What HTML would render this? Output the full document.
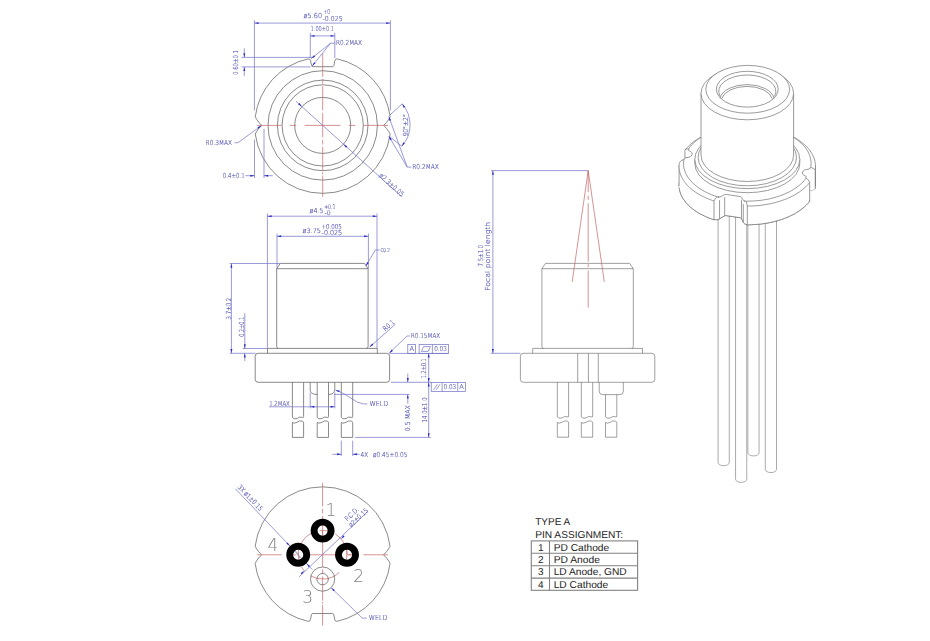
<!DOCTYPE html>
<html><head><meta charset="utf-8"><title>TYPE A package outline</title>
<style>
html,body{margin:0;padding:0;background:#fff;}
body{width:930px;height:641px;overflow:hidden;position:relative;font-family:"Liberation Sans",sans-serif;}
svg{display:block;position:absolute;}
#tbl{left:520px;top:505px;}
#drw{left:0;top:0;will-change:transform;}
text{white-space:pre;}
</style></head><body>
<svg id="tbl" width="130" height="95" viewBox="520 505 130 95">
<text x="535.2" y="524.5" font-size="10" text-anchor="start" fill="#1c1c1c" font-family='"Liberation Sans", sans-serif' textLength="35" lengthAdjust="spacingAndGlyphs" text-rendering="geometricPrecision">TYPE A</text>
<text x="535.2" y="537.6" font-size="10" text-anchor="start" fill="#1c1c1c" font-family='"Liberation Sans", sans-serif' textLength="88" lengthAdjust="spacingAndGlyphs" text-rendering="geometricPrecision">PIN ASSIGNMENT:</text>
<rect x="531.3" y="540.9" width="106.3" height="49.4" fill="none" stroke="#828282" stroke-width="1.1"/>
<line x1="549.5" y1="540.9" x2="549.5" y2="590.3" stroke="#828282" stroke-width="1.1" />
<line x1="531.3" y1="553.2" x2="637.6" y2="553.2" stroke="#828282" stroke-width="1.1" />
<line x1="531.3" y1="565.8" x2="637.6" y2="565.8" stroke="#828282" stroke-width="1.1" />
<line x1="531.3" y1="578.1" x2="637.6" y2="578.1" stroke="#828282" stroke-width="1.1" />
<text x="540.8" y="550.5" font-size="10" text-anchor="middle" fill="#1c1c1c" font-family='"Liberation Sans", sans-serif' text-rendering="geometricPrecision">1</text>
<text x="553.7" y="550.5" font-size="10" text-anchor="start" fill="#1c1c1c" font-family='"Liberation Sans", sans-serif' textLength="55.5" lengthAdjust="spacingAndGlyphs" text-rendering="geometricPrecision">PD Cathode</text>
<text x="540.8" y="562.9" font-size="10" text-anchor="middle" fill="#1c1c1c" font-family='"Liberation Sans", sans-serif' text-rendering="geometricPrecision">2</text>
<text x="553.7" y="562.9" font-size="10" text-anchor="start" fill="#1c1c1c" font-family='"Liberation Sans", sans-serif' textLength="46.3" lengthAdjust="spacingAndGlyphs" text-rendering="geometricPrecision">PD Anode</text>
<text x="540.8" y="575.4" font-size="10" text-anchor="middle" fill="#1c1c1c" font-family='"Liberation Sans", sans-serif' text-rendering="geometricPrecision">3</text>
<text x="553.7" y="575.4" font-size="10" text-anchor="start" fill="#1c1c1c" font-family='"Liberation Sans", sans-serif' textLength="73" lengthAdjust="spacingAndGlyphs" text-rendering="geometricPrecision">LD Anode, GND</text>
<text x="540.8" y="587.7" font-size="10" text-anchor="middle" fill="#1c1c1c" font-family='"Liberation Sans", sans-serif' text-rendering="geometricPrecision">4</text>
<text x="553.7" y="587.7" font-size="10" text-anchor="start" fill="#1c1c1c" font-family='"Liberation Sans", sans-serif' textLength="54.5" lengthAdjust="spacingAndGlyphs" text-rendering="geometricPrecision">LD Cathode</text>
</svg>
<svg id="drw" width="930" height="641" viewBox="0 0 930 641">
<path d="M332.4,66.7 Q333.6,66.7 333.9,65.5 L334.8,60.85 Q335.2,58.45 337.5,58.95 A68,68 0 0 1 390.15,116.8 Q388.95,119.3 386.7,122.2 L383.7,125.4 L386.7,128.6 Q388.95,131.5 390.15,134 A68,68 0 0 1 255.25,134 Q256.45,131.5 258.7,128.6 L261.7,125.4 L258.7,122.2 Q256.45,119.3 255.25,116.8 A68,68 0 0 1 307.9,58.95 Q310.2,58.45 310.6,60.85 L311.5,65.5 Q311.8,66.7 313,66.7 Z" fill="none" stroke="#585858" stroke-width="0.7" />
<circle cx="322.7" cy="125.4" r="54.7" fill="none" stroke="#585858" stroke-width="0.7" />
<circle cx="322.7" cy="125.4" r="45.3" fill="none" stroke="#585858" stroke-width="0.7" />
<circle cx="322.7" cy="125.4" r="40.6" fill="none" stroke="#585858" stroke-width="0.7" />
<circle cx="322.7" cy="125.4" r="28" fill="none" stroke="#585858" stroke-width="0.7" />
<line x1="257.2" y1="125.4" x2="388.2" y2="125.4" stroke="#c46468" stroke-width="0.7" stroke-dasharray="36 8.2 6.5 8.2" stroke-dashoffset="11.6"/>
<line x1="322.7" y1="53.6" x2="322.7" y2="76.7" stroke="#c46468" stroke-width="0.7" />
<line x1="322.7" y1="79" x2="322.7" y2="83.8" stroke="#c46468" stroke-width="0.7" />
<line x1="322.7" y1="86.2" x2="322.7" y2="110.5" stroke="#c46468" stroke-width="0.7" />
<line x1="322.7" y1="112.8" x2="322.7" y2="137.4" stroke="#c46468" stroke-width="0.7" />
<line x1="322.7" y1="139.8" x2="322.7" y2="144.5" stroke="#c46468" stroke-width="0.7" />
<line x1="322.7" y1="146.8" x2="322.7" y2="171" stroke="#c46468" stroke-width="0.7" />
<line x1="322.7" y1="172.2" x2="322.7" y2="174.2" stroke="#c46468" stroke-width="0.7" />
<line x1="322.7" y1="175.5" x2="322.7" y2="196.8" stroke="#c46468" stroke-width="0.7" />
<line x1="254.4" y1="20.3" x2="254.4" y2="110.3" stroke="#7070c6" stroke-width="0.7" />
<line x1="390.4" y1="20.3" x2="390.4" y2="110.5" stroke="#7070c6" stroke-width="0.7" />
<line x1="254.4" y1="23.1" x2="390.4" y2="23.1" stroke="#7070c6" stroke-width="0.7" />
<polygon points="254.4,23.1 258.6,22.15 258.6,24.05" fill="#2a2ac4"/>
<polygon points="390.4,23.1 386.2,24.05 386.2,22.15" fill="#2a2ac4"/>
<text x="303.6" y="18.2" font-size="6.9" text-anchor="start" fill="#5c5cb6" font-family='"DejaVu Sans Light", "DejaVu Sans", "Liberation Sans", sans-serif' textLength="18.5" lengthAdjust="spacingAndGlyphs"  font-weight="200" stroke="#6060b8" stroke-width="0.18">ø5.60</text>
<text x="323.6" y="13.6" font-size="6.7" text-anchor="start" fill="#5c5cb6" font-family='"DejaVu Sans Light", "DejaVu Sans", "Liberation Sans", sans-serif' textLength="6.6" lengthAdjust="spacingAndGlyphs"  font-weight="200" stroke="#6060b8" stroke-width="0.18">+0</text>
<text x="322.6" y="20.6" font-size="6.7" text-anchor="start" fill="#5c5cb6" font-family='"DejaVu Sans Light", "DejaVu Sans", "Liberation Sans", sans-serif' textLength="20" lengthAdjust="spacingAndGlyphs"  font-weight="200" stroke="#6060b8" stroke-width="0.18">-0.025</text>
<line x1="310.3" y1="32.8" x2="310.3" y2="58" stroke="#7070c6" stroke-width="0.7" />
<line x1="334.8" y1="32.8" x2="334.8" y2="58" stroke="#7070c6" stroke-width="0.7" />
<line x1="310.3" y1="35.9" x2="334.8" y2="35.9" stroke="#7070c6" stroke-width="0.7" />
<polygon points="310.3,35.9 314.5,34.95 314.5,36.85" fill="#2a2ac4"/>
<polygon points="334.8,35.9 330.6,36.85 330.6,34.95" fill="#2a2ac4"/>
<text x="310.6" y="30.5" font-size="6.9" text-anchor="start" fill="#5c5cb6" font-family='"DejaVu Sans Light", "DejaVu Sans", "Liberation Sans", sans-serif' textLength="23.4" lengthAdjust="spacingAndGlyphs"  font-weight="200" stroke="#6060b8" stroke-width="0.18">1.00±0.1</text>
<text x="336" y="45.3" font-size="6.9" text-anchor="start" fill="#5c5cb6" font-family='"DejaVu Sans Light", "DejaVu Sans", "Liberation Sans", sans-serif' textLength="26" lengthAdjust="spacingAndGlyphs"  font-weight="200" stroke="#6060b8" stroke-width="0.18">R0.2MAX</text>
<polyline points="335.2,43.2 330.6,43.2 311.2,58.6" fill="none" stroke="#7070c6" stroke-width="0.7" />
<line x1="330.6" y1="43.2" x2="312.2" y2="66" stroke="#7070c6" stroke-width="0.7" />
<polygon points="311.2,58.6 313.9,55.24 315.08,56.73" fill="#2a2ac4"/>
<polygon points="312.2,66 314.1,62.14 315.58,63.33" fill="#2a2ac4"/>
<line x1="241.6" y1="57.4" x2="314" y2="57.4" stroke="#7070c6" stroke-width="0.7" />
<line x1="241.6" y1="66.9" x2="310.5" y2="66.9" stroke="#7070c6" stroke-width="0.7" />
<line x1="244.3" y1="48.4" x2="244.3" y2="57.4" stroke="#7070c6" stroke-width="0.7" />
<line x1="244.3" y1="66.9" x2="244.3" y2="75.8" stroke="#7070c6" stroke-width="0.7" />
<polygon points="244.3,57.4 243.35,53.2 245.25,53.2" fill="#2a2ac4"/>
<polygon points="244.3,66.9 245.25,71.1 243.35,71.1" fill="#2a2ac4"/>
<text transform="translate(238.4 74.8) rotate(-90)" font-size="6.9" text-anchor="start" fill="#5c5cb6" font-family='"DejaVu Sans Light", "DejaVu Sans", "Liberation Sans", sans-serif' textLength="24.6" lengthAdjust="spacingAndGlyphs"  font-weight="200" stroke="#6060b8" stroke-width="0.18">0.60±0.1</text>
<text x="205.6" y="145" font-size="6.9" text-anchor="start" fill="#5c5cb6" font-family='"DejaVu Sans Light", "DejaVu Sans", "Liberation Sans", sans-serif' textLength="26.5" lengthAdjust="spacingAndGlyphs"  font-weight="200" stroke="#6060b8" stroke-width="0.18">R0.3MAX</text>
<polyline points="234.6,142.7 238,142.7 261.4,125.6" fill="none" stroke="#7070c6" stroke-width="0.7" />
<polygon points="261.4,125.6 258.56,128.84 257.44,127.3" fill="#2a2ac4"/>
<line x1="254.5" y1="139.6" x2="254.5" y2="178" stroke="#7070c6" stroke-width="0.7" />
<line x1="264" y1="128.9" x2="264" y2="178" stroke="#7070c6" stroke-width="0.7" />
<line x1="245.4" y1="175.7" x2="254.5" y2="175.7" stroke="#7070c6" stroke-width="0.7" />
<line x1="264" y1="175.7" x2="272.8" y2="175.7" stroke="#7070c6" stroke-width="0.7" />
<polygon points="254.5,175.7 250.3,176.65 250.3,174.75" fill="#2a2ac4"/>
<polygon points="264,175.7 268.2,174.75 268.2,176.65" fill="#2a2ac4"/>
<text x="222.8" y="177.9" font-size="6.9" text-anchor="start" fill="#5c5cb6" font-family='"DejaVu Sans Light", "DejaVu Sans", "Liberation Sans", sans-serif' textLength="22" lengthAdjust="spacingAndGlyphs"  font-weight="200" stroke="#6060b8" stroke-width="0.18">0.4±0.1</text>
<line x1="296" y1="101.3" x2="401.8" y2="196.8" stroke="#7070c6" stroke-width="0.7" />
<polygon points="301.9,106.6 298.15,104.49 299.42,103.08" fill="#2a2ac4"/>
<polygon points="343.5,144.2 347.25,146.31 345.98,147.72" fill="#2a2ac4"/>
<text transform="translate(378.6 176.2) rotate(42.1)" font-size="6.9" text-anchor="start" fill="#5c5cb6" font-family='"DejaVu Sans Light", "DejaVu Sans", "Liberation Sans", sans-serif' textLength="31" lengthAdjust="spacingAndGlyphs"  font-weight="200" stroke="#6060b8" stroke-width="0.18">ø2.3±0.05</text>
<line x1="389.6" y1="115.3" x2="402.2" y2="103.8" stroke="#7070c6" stroke-width="0.7" />
<line x1="389.6" y1="136.6" x2="401.8" y2="146.3" stroke="#7070c6" stroke-width="0.7" />
<path d="M402.2,103.8 A32,32 0 0 1 401.8,146.3" fill="none" stroke="#7070c6" stroke-width="0.7" />
<polygon points="402.2,103.8 405.23,106.86 403.62,107.87" fill="#2a2ac4"/>
<polygon points="401.8,146.3 403.22,142.23 404.83,143.24" fill="#2a2ac4"/>
<text transform="translate(408.2 136.5) rotate(-90)" font-size="6.9" text-anchor="start" fill="#5c5cb6" font-family='"DejaVu Sans Light", "DejaVu Sans", "Liberation Sans", sans-serif' textLength="22.4" lengthAdjust="spacingAndGlyphs"  font-weight="200" stroke="#6060b8" stroke-width="0.18">90°±2°</text>
<text x="412.2" y="169.4" font-size="6.9" text-anchor="start" fill="#5c5cb6" font-family='"DejaVu Sans Light", "DejaVu Sans", "Liberation Sans", sans-serif' textLength="26.6" lengthAdjust="spacingAndGlyphs"  font-weight="200" stroke="#6060b8" stroke-width="0.18">R0.2MAX</text>
<polyline points="411.3,167.1 407.2,167.1 388.8,116.6" fill="none" stroke="#7070c6" stroke-width="0.7" />
<line x1="407.2" y1="167.1" x2="388.8" y2="136.2" stroke="#7070c6" stroke-width="0.7" />
<polygon points="388.8,116.6 391.13,120.22 389.34,120.87" fill="#2a2ac4"/>
<polygon points="388.8,136.2 391.78,139.31 390.15,140.29" fill="#2a2ac4"/>
<path d="M278.3,348.4 Q276.7,348 276.7,346.4 L276.7,268.7 L280.3,263.4 L364.5,263.4 L368.1,268.7 L368.1,346.4 Q368.1,348 366.5,348.4" fill="none" stroke="#585858" stroke-width="0.7" />
<line x1="276.7" y1="268.7" x2="368.1" y2="268.7" stroke="#585858" stroke-width="0.7" />
<path d="M267.5,353.3 L267.5,348.4 L377.3,348.4 L377.3,353.3" fill="none" stroke="#585858" stroke-width="0.7" />
<rect x="255.2" y="353.3" width="134.4" height="29" rx="3" ry="3" fill="none" stroke="#585858" stroke-width="0.7"/>
<path d="M292.4,382.3 L292.4,417.4 Q293.4,419.6 297,418.6 Q299.5,416.2 302.4,417.4 Q303.6,418 303.6,416.5 L303.6,382.3" fill="none" stroke="#585858" stroke-width="0.7" />
<path d="M292.4,437.4 L292.4,422.4 Q293.4,424 297,422.4 Q299.5,420 302.4,421.2 Q303.6,421.6 303.6,422.6 L303.6,437.4 Z" fill="none" stroke="#585858" stroke-width="0.7" />
<path d="M317.2,382.3 L317.2,417.4 Q318.2,419.6 321.85,418.6 Q324.35,416.2 327.3,417.4 Q328.5,418 328.5,416.5 L328.5,382.3" fill="none" stroke="#585858" stroke-width="0.7" />
<path d="M317.2,437.4 L317.2,422.4 Q318.2,424 321.85,422.4 Q324.35,420 327.3,421.2 Q328.5,421.6 328.5,422.6 L328.5,437.4 Z" fill="none" stroke="#585858" stroke-width="0.7" />
<path d="M341.3,382.3 L341.3,417.4 Q342.3,419.6 346,418.6 Q348.5,416.2 351.5,417.4 Q352.7,418 352.7,416.5 L352.7,382.3" fill="none" stroke="#585858" stroke-width="0.7" />
<path d="M341.3,437.4 L341.3,422.4 Q342.3,424 346,422.4 Q348.5,420 351.5,421.2 Q352.7,421.6 352.7,422.6 L352.7,437.4 Z" fill="none" stroke="#585858" stroke-width="0.7" />
<path d="M310.2,382.3 L310.2,390.5 Q310.6,394.3 317.2,394.5" fill="none" stroke="#585858" stroke-width="0.7" />
<path d="M334.8,382.3 L334.8,390 Q334.4,394.3 328.5,394.5" fill="none" stroke="#585858" stroke-width="0.7" />
<line x1="267.4" y1="213.4" x2="267.4" y2="348.4" stroke="#7070c6" stroke-width="0.7" />
<line x1="377" y1="213.4" x2="377" y2="348.4" stroke="#7070c6" stroke-width="0.7" />
<line x1="267.4" y1="216.2" x2="377" y2="216.2" stroke="#7070c6" stroke-width="0.7" />
<polygon points="267.4,216.2 271.6,215.25 271.6,217.15" fill="#2a2ac4"/>
<polygon points="377,216.2 372.8,217.15 372.8,215.25" fill="#2a2ac4"/>
<text x="309.6" y="213.2" font-size="6.9" text-anchor="start" fill="#5c5cb6" font-family='"DejaVu Sans Light", "DejaVu Sans", "Liberation Sans", sans-serif' textLength="14" lengthAdjust="spacingAndGlyphs"  font-weight="200" stroke="#6060b8" stroke-width="0.18">ø4.5</text>
<text x="324.2" y="208.8" font-size="6.4" text-anchor="start" fill="#5c5cb6" font-family='"DejaVu Sans Light", "DejaVu Sans", "Liberation Sans", sans-serif' textLength="11.4" lengthAdjust="spacingAndGlyphs"  font-weight="200" stroke="#6060b8" stroke-width="0.18">+0.1</text>
<text x="324.4" y="214.6" font-size="6.4" text-anchor="start" fill="#5c5cb6" font-family='"DejaVu Sans Light", "DejaVu Sans", "Liberation Sans", sans-serif' textLength="6.2" lengthAdjust="spacingAndGlyphs"  font-weight="200" stroke="#6060b8" stroke-width="0.18">-0</text>
<line x1="277" y1="233.4" x2="277" y2="268.7" stroke="#7070c6" stroke-width="0.7" />
<line x1="368.4" y1="233.4" x2="368.4" y2="268.7" stroke="#7070c6" stroke-width="0.7" />
<line x1="277" y1="236.3" x2="368.4" y2="236.3" stroke="#7070c6" stroke-width="0.7" />
<polygon points="277,236.3 281.2,235.35 281.2,237.25" fill="#2a2ac4"/>
<polygon points="368.4,236.3 364.2,237.25 364.2,235.35" fill="#2a2ac4"/>
<text x="302.6" y="233.4" font-size="6.9" text-anchor="start" fill="#5c5cb6" font-family='"DejaVu Sans Light", "DejaVu Sans", "Liberation Sans", sans-serif' textLength="18.4" lengthAdjust="spacingAndGlyphs"  font-weight="200" stroke="#6060b8" stroke-width="0.18">ø3.75</text>
<text x="321.4" y="229" font-size="6.7" text-anchor="start" fill="#5c5cb6" font-family='"DejaVu Sans Light", "DejaVu Sans", "Liberation Sans", sans-serif' textLength="20.4" lengthAdjust="spacingAndGlyphs"  font-weight="200" stroke="#6060b8" stroke-width="0.18">+0.005</text>
<text x="321.6" y="234.9" font-size="6.7" text-anchor="start" fill="#5c5cb6" font-family='"DejaVu Sans Light", "DejaVu Sans", "Liberation Sans", sans-serif' textLength="20.6" lengthAdjust="spacingAndGlyphs"  font-weight="200" stroke="#6060b8" stroke-width="0.18">-0.025</text>
<text x="380.4" y="252" font-size="5.4" text-anchor="start" fill="#5c5cb6" font-family='"DejaVu Sans Light", "DejaVu Sans", "Liberation Sans", sans-serif' textLength="9.6" lengthAdjust="spacingAndGlyphs"  font-weight="200" stroke="#6060b8" stroke-width="0.18">C0.2</text>
<polyline points="379.6,250 375.4,250 365.8,266" fill="none" stroke="#7070c6" stroke-width="0.7" />
<polygon points="365.8,266 367.15,261.91 368.78,262.89" fill="#2a2ac4"/>
<line x1="229.6" y1="263.5" x2="280.6" y2="263.5" stroke="#7070c6" stroke-width="0.7" />
<line x1="229.6" y1="353.3" x2="255.6" y2="353.3" stroke="#7070c6" stroke-width="0.7" />
<line x1="231.4" y1="263.5" x2="231.4" y2="353.3" stroke="#7070c6" stroke-width="0.7" />
<polygon points="231.4,263.5 232.35,267.7 230.45,267.7" fill="#2a2ac4"/>
<polygon points="231.4,353.3 230.45,349.1 232.35,349.1" fill="#2a2ac4"/>
<text transform="translate(230.8 319.4) rotate(-90)" font-size="6.9" text-anchor="start" fill="#5c5cb6" font-family='"DejaVu Sans Light", "DejaVu Sans", "Liberation Sans", sans-serif' textLength="21.6" lengthAdjust="spacingAndGlyphs"  font-weight="200" stroke="#6060b8" stroke-width="0.18">3.7±0.2</text>
<line x1="242.6" y1="348.5" x2="267.4" y2="348.5" stroke="#7070c6" stroke-width="0.7" />
<line x1="244.8" y1="313.3" x2="244.8" y2="348.5" stroke="#7070c6" stroke-width="0.7" />
<line x1="244.8" y1="353.3" x2="244.8" y2="361" stroke="#7070c6" stroke-width="0.7" />
<polygon points="244.8,348.5 243.85,344.3 245.75,344.3" fill="#2a2ac4"/>
<polygon points="244.8,353.3 245.75,357.5 243.85,357.5" fill="#2a2ac4"/>
<text transform="translate(244.2 336.8) rotate(-90)" font-size="6.9" text-anchor="start" fill="#5c5cb6" font-family='"DejaVu Sans Light", "DejaVu Sans", "Liberation Sans", sans-serif' textLength="20" lengthAdjust="spacingAndGlyphs"  font-weight="200" stroke="#6060b8" stroke-width="0.18">0.2±0.1</text>
<line x1="369.6" y1="347" x2="395.4" y2="324.2" stroke="#7070c6" stroke-width="0.7" />
<polygon points="369.6,347 372.15,343.53 373.39,344.96" fill="#2a2ac4"/>
<text transform="translate(385.2 331.4) rotate(-41)" font-size="6.9" text-anchor="start" fill="#5c5cb6" font-family='"DejaVu Sans Light", "DejaVu Sans", "Liberation Sans", sans-serif' textLength="13" lengthAdjust="spacingAndGlyphs"  font-weight="200" stroke="#6060b8" stroke-width="0.18">R0.1</text>
<text x="410.8" y="338.2" font-size="6.9" text-anchor="start" fill="#5c5cb6" font-family='"DejaVu Sans Light", "DejaVu Sans", "Liberation Sans", sans-serif' textLength="29.4" lengthAdjust="spacingAndGlyphs"  font-weight="200" stroke="#6060b8" stroke-width="0.18">R0.15MAX</text>
<polyline points="410,336 407,336 389.2,353.2" fill="none" stroke="#7070c6" stroke-width="0.7" />
<polygon points="389.2,353.2 391.56,349.6 392.88,350.97" fill="#2a2ac4"/>
<line x1="390" y1="353.4" x2="448.6" y2="353.4" stroke="#7070c6" stroke-width="0.7" />
<rect x="407.8" y="344.5" width="7.8" height="8.9" fill="none" stroke="#7070c6" stroke-width="0.7"/>
<text x="411.7" y="351.4" font-size="6.7" text-anchor="middle" fill="#5c5cb6" font-family='"DejaVu Sans Light", "DejaVu Sans", "Liberation Sans", sans-serif'  font-weight="200" stroke="#6060b8" stroke-width="0.18">A</text>
<rect x="419.1" y="344.5" width="29.5" height="8.9" fill="none" stroke="#7070c6" stroke-width="0.7"/>
<line x1="432.4" y1="344.5" x2="432.4" y2="353.4" stroke="#7070c6" stroke-width="0.7" />
<path d="M421.4,351.4 L423.6,346.6 L430.4,346.6 L428.2,351.4 Z" fill="none" stroke="#7070c6" stroke-width="0.7" />
<text x="440.5" y="351.3" font-size="6.7" text-anchor="middle" fill="#5c5cb6" font-family='"DejaVu Sans Light", "DejaVu Sans", "Liberation Sans", sans-serif' textLength="12.6" lengthAdjust="spacingAndGlyphs"  font-weight="200" stroke="#6060b8" stroke-width="0.18">0.03</text>
<line x1="428.7" y1="353.4" x2="428.7" y2="437.4" stroke="#7070c6" stroke-width="0.7" />
<polygon points="428.7,353.4 429.65,357.6 427.75,357.6" fill="#2a2ac4"/>
<polygon points="428.7,382.3 427.75,378.1 429.65,378.1" fill="#2a2ac4"/>
<polygon points="428.7,382.3 429.65,386.5 427.75,386.5" fill="#2a2ac4"/>
<polygon points="428.7,437.4 427.75,433.2 429.65,433.2" fill="#2a2ac4"/>
<text transform="translate(426.2 378.2) rotate(-90)" font-size="6.9" text-anchor="start" fill="#5c5cb6" font-family='"DejaVu Sans Light", "DejaVu Sans", "Liberation Sans", sans-serif' textLength="19.8" lengthAdjust="spacingAndGlyphs"  font-weight="200" stroke="#6060b8" stroke-width="0.18">1.2±0.1</text>
<text transform="translate(426.6 422.4) rotate(-90)" font-size="6.9" text-anchor="start" fill="#5c5cb6" font-family='"DejaVu Sans Light", "DejaVu Sans", "Liberation Sans", sans-serif' textLength="25" lengthAdjust="spacingAndGlyphs"  font-weight="200" stroke="#6060b8" stroke-width="0.18">14.0±1.0</text>
<line x1="391" y1="382.3" x2="431.2" y2="382.3" stroke="#7070c6" stroke-width="0.7" />
<rect x="431.2" y="382.6" width="34.3" height="8.8" fill="none" stroke="#7070c6" stroke-width="0.7"/>
<line x1="442.1" y1="382.6" x2="442.1" y2="391.4" stroke="#7070c6" stroke-width="0.7" />
<line x1="457.7" y1="382.6" x2="457.7" y2="391.4" stroke="#7070c6" stroke-width="0.7" />
<line x1="433.8" y1="389.8" x2="437.4" y2="384.2" stroke="#7070c6" stroke-width="0.7" />
<line x1="436.4" y1="389.8" x2="440" y2="384.2" stroke="#7070c6" stroke-width="0.7" />
<text x="449.9" y="389.4" font-size="6.7" text-anchor="middle" fill="#5c5cb6" font-family='"DejaVu Sans Light", "DejaVu Sans", "Liberation Sans", sans-serif' textLength="12.6" lengthAdjust="spacingAndGlyphs"  font-weight="200" stroke="#6060b8" stroke-width="0.18">0.03</text>
<text x="461.6" y="389.4" font-size="6.7" text-anchor="middle" fill="#5c5cb6" font-family='"DejaVu Sans Light", "DejaVu Sans", "Liberation Sans", sans-serif'  font-weight="200" stroke="#6060b8" stroke-width="0.18">A</text>
<line x1="334" y1="394.4" x2="409.6" y2="394.4" stroke="#7070c6" stroke-width="0.7" />
<line x1="407.8" y1="373.6" x2="407.8" y2="382.3" stroke="#7070c6" stroke-width="0.7" />
<polygon points="407.8,382.3 406.85,378.1 408.75,378.1" fill="#2a2ac4"/>
<line x1="407.8" y1="394.4" x2="407.8" y2="403.6" stroke="#7070c6" stroke-width="0.7" />
<polygon points="407.8,394.4 408.75,398.6 406.85,398.6" fill="#2a2ac4"/>
<text transform="translate(410.4 431.2) rotate(-90)" font-size="6.9" text-anchor="start" fill="#5c5cb6" font-family='"DejaVu Sans Light", "DejaVu Sans", "Liberation Sans", sans-serif' textLength="26" lengthAdjust="spacingAndGlyphs"  font-weight="200" stroke="#6060b8" stroke-width="0.18">0.5 MAX</text>
<line x1="355.2" y1="437.4" x2="430.8" y2="437.4" stroke="#7070c6" stroke-width="0.7" />
<line x1="269" y1="406.8" x2="334.8" y2="406.8" stroke="#7070c6" stroke-width="0.7" />
<line x1="310.2" y1="392.5" x2="310.2" y2="408.4" stroke="#7070c6" stroke-width="0.7" />
<line x1="334.8" y1="392.5" x2="334.8" y2="408.4" stroke="#7070c6" stroke-width="0.7" />
<polygon points="310.2,406.8 314.4,405.85 314.4,407.75" fill="#2a2ac4"/>
<polygon points="334.8,406.8 330.6,407.75 330.6,405.85" fill="#2a2ac4"/>
<text x="269.2" y="405.8" font-size="6.9" text-anchor="start" fill="#5c5cb6" font-family='"DejaVu Sans Light", "DejaVu Sans", "Liberation Sans", sans-serif' textLength="20.6" lengthAdjust="spacingAndGlyphs"  font-weight="200" stroke="#6060b8" stroke-width="0.18">1.2MAX</text>
<text x="369.4" y="406.2" font-size="6.9" text-anchor="start" fill="#5c5cb6" font-family='"DejaVu Sans Light", "DejaVu Sans", "Liberation Sans", sans-serif' textLength="18.8" lengthAdjust="spacingAndGlyphs"  font-weight="200" stroke="#6060b8" stroke-width="0.18">WELD</text>
<path d="M367.4,403.9 L363.4,403.9 Q358,403.4 351,398.2 Q342,392 335.8,390.4" fill="none" stroke="#7070c6" stroke-width="0.7" />
<polygon points="335.4,390.3 339.7,390.54 339.18,392.37" fill="#2a2ac4"/>
<line x1="341.3" y1="440.6" x2="341.3" y2="456" stroke="#7070c6" stroke-width="0.7" />
<line x1="352.7" y1="440.6" x2="352.7" y2="456" stroke="#7070c6" stroke-width="0.7" />
<line x1="332.4" y1="454.3" x2="341.3" y2="454.3" stroke="#7070c6" stroke-width="0.7" />
<line x1="352.7" y1="454.3" x2="359.6" y2="454.3" stroke="#7070c6" stroke-width="0.7" />
<polygon points="341.3,454.3 337.1,455.25 337.1,453.35" fill="#2a2ac4"/>
<polygon points="352.7,454.3 356.9,453.35 356.9,455.25" fill="#2a2ac4"/>
<text x="360.6" y="456.6" font-size="6.9" text-anchor="start" fill="#5c5cb6" font-family='"DejaVu Sans Light", "DejaVu Sans", "Liberation Sans", sans-serif' textLength="7.6" lengthAdjust="spacingAndGlyphs"  font-weight="200" stroke="#6060b8" stroke-width="0.18">4X</text>
<text x="373" y="456.6" font-size="6.9" text-anchor="start" fill="#5c5cb6" font-family='"DejaVu Sans Light", "DejaVu Sans", "Liberation Sans", sans-serif' textLength="34.4" lengthAdjust="spacingAndGlyphs"  font-weight="200" stroke="#6060b8" stroke-width="0.18">ø0.45±0.05</text>
<path d="M332.3,613.5 Q333.5,613.5 333.8,614.7 L334.7,619.35 Q335.1,621.75 337.4,621.25 A68,68 0 0 0 390.05,563.4 Q388.85,560.9 386.6,558 L383.6,554.8 L386.6,551.6 Q388.85,548.7 390.05,546.2 A68,68 0 0 0 255.15,546.2 Q256.35,548.7 258.6,551.6 L261.6,554.8 L258.6,558 Q256.35,560.9 255.15,563.4 A68,68 0 0 0 307.8,621.25 Q310.1,621.75 310.5,619.35 L311.4,614.7 Q311.7,613.5 312.9,613.5 Z" fill="none" stroke="#585858" stroke-width="0.7" />
<line x1="257.2" y1="554.8" x2="388" y2="554.8" stroke="#c46468" stroke-width="0.7" stroke-dasharray="36 8.2 6.5 8.2" stroke-dashoffset="11.6"/>
<line x1="322.6" y1="482.8" x2="322.6" y2="506.4" stroke="#c46468" stroke-width="0.7" />
<line x1="322.6" y1="508.8" x2="322.6" y2="513.4" stroke="#c46468" stroke-width="0.7" />
<line x1="322.6" y1="515.8" x2="322.6" y2="540" stroke="#c46468" stroke-width="0.7" />
<line x1="322.6" y1="542.4" x2="322.6" y2="567" stroke="#c46468" stroke-width="0.7" />
<line x1="322.6" y1="569.4" x2="322.6" y2="574" stroke="#c46468" stroke-width="0.7" />
<line x1="322.6" y1="576.4" x2="322.6" y2="600.6" stroke="#c46468" stroke-width="0.7" />
<line x1="322.6" y1="601.8" x2="322.6" y2="603.8" stroke="#c46468" stroke-width="0.7" />
<line x1="322.6" y1="605" x2="322.6" y2="625.6" stroke="#c46468" stroke-width="0.7" />
<path d="M339.48,572.28 A24.3,24.3 0 0 1 310.63,575.95" fill="none" stroke="#c46468" stroke-width="0.7" />
<path d="M304.71,571.25 A24.3,24.3 0 0 1 301.6,567.02" fill="none" stroke="#c46468" stroke-width="0.7" />
<path d="M298.85,559.94 A24.3,24.3 0 0 1 315.5,531.56" fill="none" stroke="#c46468" stroke-width="0.7" />
<path d="M323.02,530.5 A24.3,24.3 0 0 1 328.27,531.17" fill="none" stroke="#c46468" stroke-width="0.7" />
<path d="M335.3,534.08 A24.3,24.3 0 0 1 344.35,565.64" fill="none" stroke="#c46468" stroke-width="0.7" />
<line x1="235.4" y1="488.8" x2="312.4" y2="569.6" stroke="#7070c6" stroke-width="0.7" />
<polygon points="289.9,546.1 286.32,543.71 287.69,542.4" fill="#2a2ac4"/>
<polygon points="306.5,563.5 310.08,565.89 308.71,567.2" fill="#2a2ac4"/>
<text transform="translate(237.2 487.4) rotate(46.4)" font-size="6.7" text-anchor="start" fill="#5c5cb6" font-family='"DejaVu Sans Light", "DejaVu Sans", "Liberation Sans", sans-serif' textLength="33" lengthAdjust="spacingAndGlyphs"  font-weight="200" stroke="#6060b8" stroke-width="0.18">3X ø1±0.15</text>
<line x1="299.2" y1="576.8" x2="368" y2="511.2" stroke="#7070c6" stroke-width="0.7" />
<polygon points="304.3,570.7 301.91,574.28 300.6,572.91" fill="#2a2ac4"/>
<polygon points="340.9,538.9 343.29,535.32 344.6,536.69" fill="#2a2ac4"/>
<text transform="translate(347.2 521.6) rotate(-43.6)" font-size="6.7" text-anchor="start" fill="#5c5cb6" font-family='"DejaVu Sans Light", "DejaVu Sans", "Liberation Sans", sans-serif' textLength="17" lengthAdjust="spacingAndGlyphs"  font-weight="200" stroke="#6060b8" stroke-width="0.18">P.C.D.</text>
<text transform="translate(351.2 527.6) rotate(-43.6)" font-size="6.7" text-anchor="start" fill="#5c5cb6" font-family='"DejaVu Sans Light", "DejaVu Sans", "Liberation Sans", sans-serif' textLength="24" lengthAdjust="spacingAndGlyphs"  font-weight="200" stroke="#6060b8" stroke-width="0.18">ø2±0.15</text>
<circle cx="322.6" cy="530.6" r="8.5" fill="none" stroke="#000" stroke-width="6.9" />
<circle cx="298.2" cy="554.8" r="8.5" fill="none" stroke="#000" stroke-width="6.9" />
<circle cx="347" cy="554.8" r="8.5" fill="none" stroke="#000" stroke-width="6.9" />
<line x1="322.6" y1="530.6" x2="322.6" y2="534.6" stroke="#c46468" stroke-width="0.7" />
<line x1="319.6" y1="530.6" x2="322.6" y2="530.6" stroke="#c46468" stroke-width="0.7" />
<line x1="347" y1="550.8" x2="347" y2="554.8" stroke="#c46468" stroke-width="0.7" />
<line x1="347" y1="554.8" x2="351" y2="554.8" stroke="#c46468" stroke-width="0.7" />
<line x1="296.2" y1="551.4" x2="300" y2="558.4" stroke="#888" stroke-width="0.7" />
<circle cx="322.6" cy="579.1" r="12.1" fill="none" stroke="#585858" stroke-width="0.7" />
<circle cx="322.6" cy="579.1" r="5.7" fill="none" stroke="#585858" stroke-width="0.7" />
<text x="331" y="515.6" font-size="17" text-anchor="middle" fill="#808080" font-family='"DejaVu Sans Light", "DejaVu Sans", "Liberation Sans", sans-serif' font-weight="200">1</text>
<text x="358.6" y="581.6" font-size="17" text-anchor="middle" fill="#808080" font-family='"DejaVu Sans Light", "DejaVu Sans", "Liberation Sans", sans-serif' font-weight="200">2</text>
<text x="307.6" y="603.1" font-size="17" text-anchor="middle" fill="#808080" font-family='"DejaVu Sans Light", "DejaVu Sans", "Liberation Sans", sans-serif' font-weight="200">3</text>
<text x="273" y="551.4" font-size="17" text-anchor="middle" fill="#808080" font-family='"DejaVu Sans Light", "DejaVu Sans", "Liberation Sans", sans-serif' font-weight="200">4</text>
<text x="368.8" y="620.4" font-size="6.9" text-anchor="start" fill="#5c5cb6" font-family='"DejaVu Sans Light", "DejaVu Sans", "Liberation Sans", sans-serif' textLength="18.4" lengthAdjust="spacingAndGlyphs"  font-weight="200" stroke="#6060b8" stroke-width="0.18">WELD</text>
<polyline points="366.8,618.1 362.2,618.1 331.2,587.7" fill="none" stroke="#7070c6" stroke-width="0.7" />
<polygon points="331.2,587.7 334.86,589.97 333.53,591.32" fill="#2a2ac4"/>
<path d="M543.5,348.4 Q541.9,348 541.9,346.4 L541.9,268.7 L545.5,263.4 L629.7,263.4 L633.3,268.7 L633.3,346.4 Q633.3,348 631.7,348.4" fill="none" stroke="#6c6c6c" stroke-width="0.65" />
<line x1="541.9" y1="268.7" x2="633.3" y2="268.7" stroke="#6c6c6c" stroke-width="0.65" />
<path d="M532.7,353.3 L532.7,348.4 L642.5,348.4 L642.5,353.3" fill="none" stroke="#6c6c6c" stroke-width="0.65" />
<rect x="520.4" y="353.3" width="134.4" height="29" rx="3" ry="3" fill="none" stroke="#6c6c6c" stroke-width="0.65"/>
<line x1="577.7" y1="353.3" x2="577.7" y2="382.3" stroke="#6c6c6c" stroke-width="0.65" />
<line x1="588.4" y1="353.3" x2="588.4" y2="382.3" stroke="#6c6c6c" stroke-width="0.65" />
<line x1="598.3" y1="353.3" x2="598.3" y2="382.3" stroke="#6c6c6c" stroke-width="0.65" />
<path d="M557.3,382.3 L557.3,416.8 Q558.3,419 561.95,418 Q564.45,415.6 567.4,416.8 Q568.6,417.4 568.6,415.9 L568.6,382.3" fill="none" stroke="#6c6c6c" stroke-width="0.65" />
<path d="M557.3,437.2 L557.3,422.4 Q558.3,424 561.95,422.4 Q564.45,420 567.4,421.2 Q568.6,421.6 568.6,422.6 L568.6,437.2 Z" fill="none" stroke="#6c6c6c" stroke-width="0.65" />
<path d="M581.3,382.3 L581.3,416.8 Q582.3,419 586,418 Q588.5,415.6 591.5,416.8 Q592.7,417.4 592.7,415.9 L592.7,382.3" fill="none" stroke="#6c6c6c" stroke-width="0.65" />
<path d="M581.3,437.2 L581.3,422.4 Q582.3,424 586,422.4 Q588.5,420 591.5,421.2 Q592.7,421.6 592.7,422.6 L592.7,437.2 Z" fill="none" stroke="#6c6c6c" stroke-width="0.65" />
<path d="M605.5,394.6 L605.5,416.8 Q606.5,419 610.15,418 Q612.65,415.6 615.6,416.8 Q616.8,417.4 616.8,415.9 L616.8,394.6" fill="none" stroke="#6c6c6c" stroke-width="0.65" />
<path d="M605.5,437.2 L605.5,422.4 Q606.5,424 610.15,422.4 Q612.65,420 615.6,421.2 Q616.8,421.6 616.8,422.6 L616.8,437.2 Z" fill="none" stroke="#6c6c6c" stroke-width="0.65" />
<path d="M599.2,382.3 L599.2,391.4 Q599.4,394.6 602.6,394.6 L620,394.6 Q623.2,394.6 623.3,391.4 L623.3,382.3" fill="none" stroke="#6c6c6c" stroke-width="0.65" />
<line x1="491" y1="170.6" x2="588.2" y2="170.6" stroke="#7070c6" stroke-width="0.7" />
<line x1="490.6" y1="353.3" x2="520.4" y2="353.3" stroke="#7070c6" stroke-width="0.7" />
<line x1="492.9" y1="170.6" x2="492.9" y2="353.3" stroke="#7070c6" stroke-width="0.7" />
<polygon points="492.9,170.6 493.85,174.8 491.95,174.8" fill="#2a2ac4"/>
<polygon points="492.9,353.3 491.95,349.1 493.85,349.1" fill="#2a2ac4"/>
<line x1="588.2" y1="170.6" x2="572.2" y2="281.8" stroke="#c46468" stroke-width="0.7" />
<line x1="588.2" y1="170.6" x2="604.3" y2="281.8" stroke="#c46468" stroke-width="0.7" />
<line x1="588.2" y1="170.6" x2="588.2" y2="192.2" stroke="#c46468" stroke-width="0.7" />
<line x1="588.2" y1="195.6" x2="588.2" y2="199.9" stroke="#c46468" stroke-width="0.7" />
<line x1="588.2" y1="203.3" x2="588.2" y2="261.8" stroke="#c46468" stroke-width="0.7" />
<line x1="588.2" y1="264" x2="588.2" y2="267.3" stroke="#c46468" stroke-width="0.7" />
<line x1="588.2" y1="270.6" x2="588.2" y2="307.7" stroke="#c46468" stroke-width="0.7" />
<text transform="translate(483.2 266.5) rotate(-90)" font-size="6.9" text-anchor="start" fill="#5c5cb6" font-family='"DejaVu Sans Light", "DejaVu Sans", "Liberation Sans", sans-serif' textLength="21.8" lengthAdjust="spacingAndGlyphs"  font-weight="200" stroke="#6060b8" stroke-width="0.18">7.5±1.0</text>
<text transform="translate(489.7 290.8) rotate(-90)" font-size="6.9" text-anchor="start" fill="#5c5cb6" font-family='"DejaVu Sans Light", "DejaVu Sans", "Liberation Sans", sans-serif' textLength="69" lengthAdjust="spacingAndGlyphs"  font-weight="200" stroke="#6060b8" stroke-width="0.18">Focal point length</text>
<path d="M747.85,171.5 L747.85,452.78 A5.6,3.14 0 0 0 759.05,452.78 L759.05,171.5" fill="#fff" stroke="#a0a0a0" stroke-width="0.9" />
<path d="M718.09,181.63 L718.09,462.56 A5.6,3.14 0 0 0 729.29,462.56 L729.29,181.63" fill="#fff" stroke="#a0a0a0" stroke-width="0.9" />
<path d="M765.31,188.77 L765.31,469.44 A5.6,3.14 0 0 0 776.51,469.44 L776.51,188.77" fill="#fff" stroke="#a0a0a0" stroke-width="0.9" />
<path d="M735.55,198.9 L735.55,479.22 A5.6,3.14 0 0 0 746.75,479.22 L746.75,198.9" fill="#fff" stroke="#a0a0a0" stroke-width="0.9" />
<path d="M726.2,215.6 L725.1,215.6 L724.2,216.0 L719.5,218.8 L718.0,219.5 L716.4,219.8 L715.7,219.6 L714.0,219.7 L713.3,219.5 L710.6,218.5 L707.9,217.5 L705.4,216.4 L702.9,215.2 L700.5,214.0 L698.2,212.7 L696.1,211.3 L694.0,209.9 L692.1,208.4 L690.2,206.9 L688.5,205.3 L687.0,203.7 L685.5,202.0 L684.3,200.3 L683.1,198.6 L682.1,196.8 L681.2,195.0 L680.5,193.2 L679.9,191.4 L679.5,189.5 L679.2,187.7 L679.1,185.8 L679.1,183.9 L679.3,182.1 L680.0,181.1 L685.0,179.7 L688.0,179.4 L690.1,178.7 L691.4,177.7 L691.9,176.8 L692.2,175.9 L691.9,174.7 L690.6,173.5 L688.3,172.3 L685.1,169.7 L685.3,168.7 L686.7,167.0 L688.2,165.4 L689.9,163.8 L691.7,162.3 L693.6,160.8 L695.6,159.4 L697.7,158.1 L699.9,156.7 L702.2,155.5 L704.7,154.3 L707.2,153.2 L709.8,152.2 L712.5,151.2 L715.3,150.3 L718.1,149.5 L721.0,148.7 L723.9,148.0 L726.9,147.4 L730.0,146.9 L733.1,146.5 L736.2,146.2 L739.3,145.9 L742.5,145.7 L745.7,145.7 L748.8,145.7 L752.0,145.7 L755.1,145.9 L758.3,146.2 L761.4,146.5 L764.5,146.9 L767.5,147.4 L770.5,148.0 L773.5,148.7 L776.4,149.4 L779.2,150.2 L782.0,151.1 L784.7,152.1 L787.3,153.2 L789.8,154.3 L792.3,155.5 L794.6,156.7 L796.8,158.0 L799.0,159.4 L801.0,160.8 L802.9,162.3 L804.6,163.8 L806.3,165.4 L807.8,167.0 L809.2,168.6 L810.5,170.3 L811.6,172.0 L812.6,173.8 L813.4,175.5 L814.1,177.3 L814.7,179.1 L815.1,181.0 L815.4,182.8 L815.5,184.6 L815.5,186.5 L815.3,188.3 L814.6,189.3 L809.6,190.7 L806.6,191.0 L804.5,191.7 L803.2,192.7 L802.7,193.6 L802.4,194.5 L802.7,195.7 L804.0,196.9 L806.3,198.1 L809.5,200.7 L809.3,201.7 L807.9,203.4 L806.3,205.0 L804.6,206.6 L802.9,208.1 L800.9,209.6 L798.9,211.1 L796.7,212.4 L794.5,213.8 L792.1,215.0 L789.6,216.2 L787.1,217.3 L784.4,218.4 L781.7,219.4 L778.9,220.3 L776.0,221.1 L773.1,221.8 L770.1,222.5 L767.0,223.1 L763.9,223.6 L760.8,224.0 L757.7,224.3 L754.5,224.5 L751.3,224.7 L748.1,224.8 L747.3,224.8 L745.9,224.2 L745.2,224.2 L744.1,223.4 L743.3,222.4 L741.6,218.6 L741.1,218.0 L740.2,217.7 Z" fill="none" stroke="#707070" stroke-width="0.7" />
<line x1="802.71" y1="176.88" x2="802.71" y2="195.73" stroke="#707070" stroke-width="0.7" />
<line x1="804.53" y1="172.82" x2="804.53" y2="191.69" stroke="#707070" stroke-width="0.7" />
<line x1="691.89" y1="155.72" x2="691.89" y2="174.67" stroke="#707070" stroke-width="0.7" />
<line x1="690.07" y1="159.78" x2="690.07" y2="178.71" stroke="#707070" stroke-width="0.7" />
<path d="M726.2,215.6 L725.1,215.6 L724.2,216.0 L719.5,218.8 L718.0,219.5 L716.4,219.8 L715.7,219.6 L714.0,219.7 L713.3,219.5 L710.6,218.5 L707.9,217.5 L705.4,216.4 L702.9,215.2 L700.5,214.0 L698.2,212.7 L696.1,211.3 L694.0,209.9 L692.1,208.4 L690.2,206.9 L688.5,205.3 L687.0,203.7 L685.5,202.0 L684.3,200.3 L683.1,198.6 L682.1,196.8 L681.2,195.0 L680.5,193.2 L679.9,191.4 L679.5,189.5 L679.2,187.7 L679.1,185.8 L679.1,183.9 L679.3,182.1 L680.0,181.1 L685.0,179.7 L688.0,179.4 L690.1,178.7 L691.4,177.7 L691.9,176.8 L692.2,175.9 L691.9,174.7 L690.6,173.5 L688.3,172.3 L685.1,169.7 L685.3,168.7 L686.7,167.0 L688.2,165.4 L689.9,163.8 L691.7,162.3 L693.6,160.8 L695.6,159.4 L697.7,158.1 L699.9,156.7 L702.2,155.5 L704.7,154.3 L707.2,153.2 L709.8,152.2 L712.5,151.2 L715.3,150.3 L718.1,149.5 L721.0,148.7 L723.9,148.0 L726.9,147.4 L730.0,146.9 L733.1,146.5 L736.2,146.2 L739.3,145.9 L742.5,145.7 L745.7,145.7 L748.8,145.7 L752.0,145.7 L755.1,145.9 L758.3,146.2 L761.4,146.5 L764.5,146.9 L767.5,147.4 L770.5,148.0 L773.5,148.7 L776.4,149.4 L779.2,150.2 L782.0,151.1 L784.7,152.1 L787.3,153.2 L789.8,154.3 L792.3,155.5 L794.6,156.7 L796.8,158.0 L799.0,159.4 L801.0,160.8 L802.9,162.3 L804.6,163.8 L806.3,165.4 L807.8,167.0 L809.2,168.6 L810.5,170.3 L811.6,172.0 L812.6,173.8 L813.4,175.5 L814.1,177.3 L814.7,179.1 L815.1,181.0 L815.4,182.8 L815.5,184.6 L815.5,186.5 L815.3,188.3 L814.6,189.3 L809.6,190.7 L806.6,191.0 L804.5,191.7 L803.2,192.7 L802.7,193.6 L802.4,194.5 L802.7,195.7 L804.0,196.9 L806.3,198.1 L809.5,200.7 L809.3,201.7 L807.9,203.4 L806.3,205.0 L804.6,206.6 L802.9,208.1 L800.9,209.6 L798.9,211.1 L796.7,212.4 L794.5,213.8 L792.1,215.0 L789.6,216.2 L787.1,217.3 L784.4,218.4 L781.7,219.4 L778.9,220.3 L776.0,221.1 L773.1,221.8 L770.1,222.5 L767.0,223.1 L763.9,223.6 L760.8,224.0 L757.7,224.3 L754.5,224.5 L751.3,224.7 L748.1,224.8 L747.3,224.8 L745.9,224.2 L745.2,224.2 L744.1,223.4 L743.3,222.4 L741.6,218.6 L741.1,218.0 L740.2,217.7 Z" fill="#fff" stroke="none" stroke-width="0" />
<path d="M726.2,213.7 L725.1,213.7 L724.2,214.1 L719.5,216.9 L718.0,217.6 L716.4,218.0 L715.7,217.8 L714.0,217.9 L713.3,217.6 L710.6,216.7 L707.9,215.6 L705.4,214.5 L702.9,213.3 L700.5,212.1 L698.2,210.8 L696.1,209.4 L694.0,208.0 L692.1,206.5 L690.2,205.0 L688.5,203.4 L687.0,201.8 L685.5,200.1 L684.3,198.4 L683.1,196.7 L682.1,194.9 L681.2,193.1 L680.5,191.3 L679.9,189.5 L679.5,187.6 L679.2,185.8 L679.1,183.9 L679.1,182.1 L679.3,180.2 L680.0,179.3 L685.0,177.8 L688.0,177.5 L690.1,176.8 L691.4,175.8 L691.9,174.9 L692.2,174.0 L691.9,172.8 L690.6,171.6 L688.3,170.4 L685.1,167.8 L685.3,166.8 L686.7,165.1 L688.2,163.5 L689.9,161.9 L691.7,160.4 L693.6,158.9 L695.6,157.5 L697.7,156.2 L699.9,154.8 L702.2,153.6 L704.7,152.4 L707.2,151.3 L709.8,150.3 L712.5,149.3 L715.3,148.4 L718.1,147.5 L721.0,146.8 L723.9,146.1 L726.9,145.5 L730.0,145.0 L733.1,144.6 L736.2,144.3 L739.3,144.0 L742.5,143.8 L745.7,143.7 L748.8,143.7 L752.0,143.8 L755.1,144.0 L758.3,144.3 L761.4,144.6 L764.5,145.0 L767.5,145.5 L770.5,146.1 L773.5,146.8 L776.4,147.5 L779.2,148.3 L782.0,149.2 L784.7,150.2 L787.3,151.3 L789.8,152.4 L792.3,153.6 L794.6,154.8 L796.8,156.1 L799.0,157.5 L801.0,158.9 L802.9,160.4 L804.6,161.9 L806.3,163.5 L807.8,165.1 L809.2,166.7 L810.5,168.4 L811.6,170.1 L812.6,171.9 L813.4,173.6 L814.1,175.4 L814.7,177.3 L815.1,179.1 L815.4,180.9 L815.5,182.8 L815.5,184.6 L815.3,186.4 L814.6,187.4 L809.6,188.8 L806.6,189.2 L804.5,189.8 L803.2,190.8 L802.7,191.7 L802.4,192.6 L802.7,193.8 L804.0,195.0 L806.3,196.2 L809.5,198.8 L809.3,199.8 L807.9,201.5 L806.3,203.1 L804.6,204.7 L802.9,206.3 L800.9,207.8 L798.9,209.2 L796.7,210.6 L794.5,211.9 L792.1,213.1 L789.6,214.3 L787.1,215.5 L784.4,216.5 L781.7,217.5 L778.9,218.4 L776.0,219.2 L773.1,220.0 L770.1,220.6 L767.0,221.2 L763.9,221.7 L760.8,222.1 L757.7,222.4 L754.5,222.7 L751.3,222.8 L748.1,222.9 L747.3,222.9 L745.9,222.3 L745.2,222.3 L744.1,221.6 L743.3,220.5 L741.6,216.7 L741.1,216.1 L740.2,215.8 Z" fill="#fff" stroke="none" stroke-width="0" />
<path d="M726.2,211.8 L725.1,211.8 L724.2,212.2 L719.5,215.0 L718.0,215.7 L716.4,216.1 L715.7,215.9 L714.0,216.0 L713.3,215.8 L710.6,214.8 L707.9,213.8 L705.4,212.6 L702.9,211.5 L700.5,210.2 L698.2,208.9 L696.1,207.5 L694.0,206.1 L692.1,204.6 L690.2,203.1 L688.5,201.5 L687.0,199.9 L685.5,198.2 L684.3,196.5 L683.1,194.8 L682.1,193.0 L681.2,191.2 L680.5,189.4 L679.9,187.6 L679.5,185.7 L679.2,183.9 L679.1,182.0 L679.1,180.2 L679.3,178.3 L680.0,177.4 L685.0,176.0 L688.0,175.6 L690.1,174.9 L691.4,173.9 L691.9,173.0 L692.2,172.1 L691.9,170.9 L690.6,169.7 L688.3,168.5 L685.1,165.9 L685.3,164.9 L686.7,163.2 L688.2,161.6 L689.9,160.0 L691.7,158.5 L693.6,157.0 L695.6,155.6 L697.7,154.2 L699.9,152.9 L702.2,151.7 L704.7,150.5 L707.2,149.4 L709.8,148.3 L712.5,147.4 L715.3,146.5 L718.1,145.6 L721.0,144.9 L723.9,144.2 L726.9,143.6 L730.0,143.1 L733.1,142.7 L736.2,142.4 L739.3,142.1 L742.5,141.9 L745.7,141.8 L748.8,141.8 L752.0,141.9 L755.1,142.1 L758.3,142.3 L761.4,142.7 L764.5,143.1 L767.5,143.6 L770.5,144.2 L773.5,144.9 L776.4,145.6 L779.2,146.4 L782.0,147.3 L784.7,148.3 L787.3,149.3 L789.8,150.5 L792.3,151.6 L794.6,152.9 L796.8,154.2 L799.0,155.6 L801.0,157.0 L802.9,158.5 L804.6,160.0 L806.3,161.6 L807.8,163.2 L809.2,164.8 L810.5,166.5 L811.6,168.2 L812.6,170.0 L813.4,171.8 L814.1,173.5 L814.7,175.4 L815.1,177.2 L815.4,179.0 L815.5,180.9 L815.5,182.7 L815.3,184.5 L814.6,185.5 L809.6,186.9 L806.6,187.3 L804.5,187.9 L803.2,188.9 L802.7,189.8 L802.4,190.7 L802.7,192.0 L804.0,193.1 L806.3,194.3 L809.5,196.9 L809.3,198.0 L807.9,199.6 L806.3,201.3 L804.6,202.8 L802.9,204.4 L800.9,205.9 L798.9,207.3 L796.7,208.7 L794.5,210.0 L792.1,211.3 L789.6,212.5 L787.1,213.6 L784.4,214.6 L781.7,215.6 L778.9,216.5 L776.0,217.3 L773.1,218.1 L770.1,218.7 L767.0,219.3 L763.9,219.8 L760.8,220.2 L757.7,220.6 L754.5,220.8 L751.3,220.9 L748.1,221.0 L747.3,221.0 L745.9,220.4 L745.2,220.5 L744.1,219.7 L743.3,218.6 L741.6,214.9 L741.1,214.3 L740.2,213.9 Z" fill="#fff" stroke="none" stroke-width="0" />
<path d="M726.2,210.0 L725.1,210.0 L724.2,210.4 L719.5,213.1 L718.0,213.9 L716.4,214.2 L715.7,214.0 L714.0,214.1 L713.3,213.9 L710.6,212.9 L707.9,211.9 L705.4,210.8 L702.9,209.6 L700.5,208.3 L698.2,207.0 L696.1,205.7 L694.0,204.2 L692.1,202.8 L690.2,201.2 L688.5,199.6 L687.0,198.0 L685.5,196.3 L684.3,194.6 L683.1,192.9 L682.1,191.1 L681.2,189.3 L680.5,187.5 L679.9,185.7 L679.5,183.8 L679.2,182.0 L679.1,180.1 L679.1,178.3 L679.3,176.4 L680.0,175.5 L685.0,174.1 L688.0,173.7 L690.1,173.0 L691.4,172.0 L691.9,171.1 L692.2,170.2 L691.9,169.0 L690.6,167.8 L688.3,166.6 L685.1,164.0 L685.3,163.0 L686.7,161.3 L688.2,159.7 L689.9,158.1 L691.7,156.6 L693.6,155.1 L695.6,153.7 L697.7,152.3 L699.9,151.0 L702.2,149.8 L704.7,148.6 L707.2,147.5 L709.8,146.4 L712.5,145.5 L715.3,144.6 L718.1,143.7 L721.0,143.0 L723.9,142.3 L726.9,141.7 L730.0,141.2 L733.1,140.8 L736.2,140.4 L739.3,140.2 L742.5,140.0 L745.7,139.9 L748.8,139.9 L752.0,140.0 L755.1,140.2 L758.3,140.4 L761.4,140.8 L764.5,141.2 L767.5,141.7 L770.5,142.3 L773.5,143.0 L776.4,143.7 L779.2,144.5 L782.0,145.4 L784.7,146.4 L787.3,147.4 L789.8,148.6 L792.3,149.7 L794.6,151.0 L796.8,152.3 L799.0,153.7 L801.0,155.1 L802.9,156.6 L804.6,158.1 L806.3,159.7 L807.8,161.3 L809.2,162.9 L810.5,164.6 L811.6,166.3 L812.6,168.1 L813.4,169.9 L814.1,171.7 L814.7,173.5 L815.1,175.3 L815.4,177.1 L815.5,179.0 L815.5,180.8 L815.3,182.7 L814.6,183.6 L809.6,185.0 L806.6,185.4 L804.5,186.0 L803.2,187.0 L802.7,187.9 L802.4,188.8 L802.7,190.1 L804.0,191.2 L806.3,192.4 L809.5,195.1 L809.3,196.1 L807.9,197.7 L806.3,199.4 L804.6,201.0 L802.9,202.5 L800.9,204.0 L798.9,205.4 L796.7,206.8 L794.5,208.1 L792.1,209.4 L789.6,210.6 L787.1,211.7 L784.4,212.8 L781.7,213.7 L778.9,214.6 L776.0,215.5 L773.1,216.2 L770.1,216.9 L767.0,217.5 L763.9,217.9 L760.8,218.4 L757.7,218.7 L754.5,218.9 L751.3,219.1 L748.1,219.1 L747.3,219.1 L745.9,218.6 L745.2,218.6 L744.1,217.8 L743.3,216.7 L741.6,213.0 L741.1,212.4 L740.2,212.1 Z" fill="#fff" stroke="none" stroke-width="0" />
<path d="M726.2,208.1 L725.1,208.1 L724.2,208.5 L719.5,211.3 L718.0,212.0 L716.4,212.4 L715.7,212.1 L714.0,212.2 L713.3,212.0 L710.6,211.1 L707.9,210.0 L705.4,208.9 L702.9,207.7 L700.5,206.5 L698.2,205.2 L696.1,203.8 L694.0,202.4 L692.1,200.9 L690.2,199.3 L688.5,197.8 L687.0,196.1 L685.5,194.5 L684.3,192.8 L683.1,191.0 L682.1,189.3 L681.2,187.5 L680.5,185.6 L679.9,183.8 L679.5,182.0 L679.2,180.1 L679.1,178.2 L679.1,176.4 L679.3,174.5 L680.0,173.6 L685.0,172.2 L688.0,171.8 L690.1,171.1 L691.4,170.1 L691.9,169.2 L692.2,168.3 L691.9,167.1 L690.6,165.9 L688.3,164.7 L685.1,162.1 L685.3,161.1 L686.7,159.4 L688.2,157.8 L689.9,156.2 L691.7,154.7 L693.6,153.2 L695.6,151.8 L697.7,150.4 L699.9,149.1 L702.2,147.9 L704.7,146.7 L707.2,145.6 L709.8,144.5 L712.5,143.6 L715.3,142.6 L718.1,141.8 L721.0,141.1 L723.9,140.4 L726.9,139.8 L730.0,139.3 L733.1,138.9 L736.2,138.5 L739.3,138.3 L742.5,138.1 L745.7,138.0 L748.8,138.0 L752.0,138.1 L755.1,138.3 L758.3,138.5 L761.4,138.9 L764.5,139.3 L767.5,139.8 L770.5,140.4 L773.5,141.0 L776.4,141.8 L779.2,142.6 L782.0,143.5 L784.7,144.5 L787.3,145.5 L789.8,146.7 L792.3,147.8 L794.6,149.1 L796.8,150.4 L799.0,151.8 L801.0,153.2 L802.9,154.7 L804.6,156.2 L806.3,157.8 L807.8,159.4 L809.2,161.0 L810.5,162.7 L811.6,164.4 L812.6,166.2 L813.4,168.0 L814.1,169.8 L814.7,171.6 L815.1,173.4 L815.4,175.2 L815.5,177.1 L815.5,178.9 L815.3,180.8 L814.6,181.7 L809.6,183.1 L806.6,183.5 L804.5,184.1 L803.2,185.1 L802.7,186.0 L802.4,186.9 L802.7,188.2 L804.0,189.3 L806.3,190.5 L809.5,193.2 L809.3,194.2 L807.9,195.9 L806.3,197.5 L804.6,199.1 L802.9,200.6 L800.9,202.1 L798.9,203.6 L796.7,204.9 L794.5,206.3 L792.1,207.5 L789.6,208.7 L787.1,209.8 L784.4,210.9 L781.7,211.9 L778.9,212.8 L776.0,213.6 L773.1,214.3 L770.1,215.0 L767.0,215.6 L763.9,216.1 L760.8,216.5 L757.7,216.8 L754.5,217.1 L751.3,217.2 L748.1,217.3 L747.3,217.3 L745.9,216.7 L745.2,216.7 L744.1,215.9 L743.3,214.9 L741.6,211.1 L741.1,210.5 L740.2,210.2 Z" fill="#fff" stroke="none" stroke-width="0" />
<path d="M726.2,206.2 L725.1,206.2 L724.2,206.6 L719.5,209.4 L718.0,210.1 L716.4,210.5 L715.7,210.3 L714.0,210.4 L713.3,210.1 L710.6,209.2 L707.9,208.1 L705.4,207.0 L702.9,205.8 L700.5,204.6 L698.2,203.3 L696.1,201.9 L694.0,200.5 L692.1,199.0 L690.2,197.5 L688.5,195.9 L687.0,194.3 L685.5,192.6 L684.3,190.9 L683.1,189.1 L682.1,187.4 L681.2,185.6 L680.5,183.8 L679.9,181.9 L679.5,180.1 L679.2,178.2 L679.1,176.4 L679.1,174.5 L679.3,172.6 L680.0,171.7 L685.0,170.3 L688.0,169.9 L690.1,169.2 L691.4,168.2 L691.9,167.4 L692.2,166.4 L691.9,165.2 L690.6,164.0 L688.3,162.8 L685.1,160.2 L685.3,159.2 L686.7,157.5 L688.2,155.9 L689.9,154.3 L691.7,152.8 L693.6,151.3 L695.6,149.9 L697.7,148.5 L699.9,147.2 L702.2,146.0 L704.7,144.8 L707.2,143.7 L709.8,142.6 L712.5,141.6 L715.3,140.7 L718.1,139.9 L721.0,139.2 L723.9,138.5 L726.9,137.9 L730.0,137.4 L733.1,137.0 L736.2,136.6 L739.3,136.4 L742.5,136.2 L745.7,136.1 L748.8,136.1 L752.0,136.2 L755.1,136.4 L758.3,136.6 L761.4,136.9 L764.5,137.4 L767.5,137.9 L770.5,138.5 L773.5,139.1 L776.4,139.9 L779.2,140.7 L782.0,141.6 L784.7,142.6 L787.3,143.6 L789.8,144.7 L792.3,145.9 L794.6,147.2 L796.8,148.5 L799.0,149.9 L801.0,151.3 L802.9,152.8 L804.6,154.3 L806.3,155.9 L807.8,157.5 L809.2,159.1 L810.5,160.8 L811.6,162.5 L812.6,164.3 L813.4,166.1 L814.1,167.9 L814.7,169.7 L815.1,171.5 L815.4,173.3 L815.5,175.2 L815.5,177.0 L815.3,178.9 L814.6,179.8 L809.6,181.2 L806.6,181.6 L804.5,182.3 L803.2,183.3 L802.7,184.1 L802.4,185.1 L802.7,186.3 L804.0,187.5 L806.3,188.7 L809.5,191.3 L809.3,192.3 L807.9,194.0 L806.3,195.6 L804.6,197.2 L802.9,198.8 L800.9,200.2 L798.9,201.7 L796.7,203.1 L794.5,204.4 L792.1,205.6 L789.6,206.8 L787.1,208.0 L784.4,209.0 L781.7,210.0 L778.9,210.9 L776.0,211.7 L773.1,212.5 L770.1,213.1 L767.0,213.7 L763.9,214.2 L760.8,214.6 L757.7,214.9 L754.5,215.2 L751.3,215.3 L748.1,215.4 L747.3,215.4 L745.9,214.8 L745.2,214.8 L744.1,214.1 L743.3,213.0 L741.6,209.3 L741.1,208.6 L740.2,208.3 Z" fill="#fff" stroke="none" stroke-width="0" />
<path d="M726.2,204.3 L725.1,204.3 L724.2,204.7 L719.5,207.5 L718.0,208.3 L716.4,208.6 L715.7,208.4 L714.0,208.5 L713.3,208.3 L710.6,207.3 L707.9,206.3 L705.4,205.2 L702.9,204.0 L700.5,202.7 L698.2,201.4 L696.1,200.0 L694.0,198.6 L692.1,197.1 L690.2,195.6 L688.5,194.0 L687.0,192.4 L685.5,190.7 L684.3,189.0 L683.1,187.3 L682.1,185.5 L681.2,183.7 L680.5,181.9 L679.9,180.0 L679.5,178.2 L679.2,176.3 L679.1,174.5 L679.1,172.6 L679.3,170.7 L680.0,169.8 L685.0,168.4 L688.0,168.0 L690.1,167.4 L691.4,166.3 L691.9,165.5 L692.2,164.5 L691.9,163.3 L690.6,162.1 L688.3,160.9 L685.1,158.3 L685.3,157.3 L686.7,155.6 L688.2,154.0 L689.9,152.4 L691.7,150.9 L693.6,149.4 L695.6,148.0 L697.7,146.6 L699.9,145.3 L702.2,144.1 L704.7,142.9 L707.2,141.8 L709.8,140.7 L712.5,139.7 L715.3,138.8 L718.1,138.0 L721.0,137.3 L723.9,136.6 L726.9,136.0 L730.0,135.5 L733.1,135.1 L736.2,134.7 L739.3,134.5 L742.5,134.3 L745.7,134.2 L748.8,134.2 L752.0,134.3 L755.1,134.4 L758.3,134.7 L761.4,135.0 L764.5,135.5 L767.5,136.0 L770.5,136.6 L773.5,137.2 L776.4,138.0 L779.2,138.8 L782.0,139.7 L784.7,140.7 L787.3,141.7 L789.8,142.8 L792.3,144.0 L794.6,145.3 L796.8,146.6 L799.0,147.9 L801.0,149.4 L802.9,150.9 L804.6,152.4 L806.3,154.0 L807.8,155.6 L809.2,157.2 L810.5,158.9 L811.6,160.6 L812.6,162.4 L813.4,164.2 L814.1,166.0 L814.7,167.8 L815.1,169.6 L815.4,171.5 L815.5,173.3 L815.5,175.1 L815.3,177.0 L814.6,177.9 L809.6,179.3 L806.6,179.7 L804.5,180.4 L803.2,181.4 L802.7,182.3 L802.4,183.2 L802.7,184.4 L804.0,185.6 L806.3,186.8 L809.5,189.4 L809.3,190.4 L807.9,192.1 L806.3,193.7 L804.6,195.3 L802.9,196.9 L800.9,198.4 L798.9,199.8 L796.7,201.2 L794.5,202.5 L792.1,203.8 L789.6,205.0 L787.1,206.1 L784.4,207.1 L781.7,208.1 L778.9,209.0 L776.0,209.8 L773.1,210.6 L770.1,211.3 L767.0,211.8 L763.9,212.3 L760.8,212.8 L757.7,213.1 L754.5,213.3 L751.3,213.5 L748.1,213.5 L747.3,213.5 L745.9,213.0 L745.2,213.0 L744.1,212.2 L743.3,211.1 L741.6,207.4 L741.1,206.8 L740.2,206.4 Z" fill="#fff" stroke="none" stroke-width="0" />
<path d="M726.2,202.5 L725.1,202.5 L724.2,202.9 L719.5,205.7 L718.0,206.4 L716.4,206.7 L715.7,206.5 L714.0,206.6 L713.3,206.4 L710.6,205.4 L707.9,204.4 L705.4,203.3 L702.9,202.1 L700.5,200.8 L698.2,199.5 L696.1,198.2 L694.0,196.7 L692.1,195.2 L690.2,193.7 L688.5,192.1 L687.0,190.5 L685.5,188.8 L684.3,187.1 L683.1,185.4 L682.1,183.6 L681.2,181.8 L680.5,180.0 L679.9,178.1 L679.5,176.3 L679.2,174.4 L679.1,172.6 L679.1,170.7 L679.3,168.8 L680.0,167.9 L685.0,166.5 L688.0,166.1 L690.1,165.5 L691.4,164.4 L691.9,163.6 L692.2,162.6 L691.9,161.4 L690.6,160.3 L688.3,159.1 L685.1,156.4 L685.3,155.4 L686.7,153.7 L688.2,152.1 L689.9,150.5 L691.7,149.0 L693.6,147.5 L695.6,146.1 L697.7,144.7 L699.9,143.4 L702.2,142.2 L704.7,141.0 L707.2,139.9 L709.8,138.8 L712.5,137.8 L715.3,136.9 L718.1,136.1 L721.0,135.3 L723.9,134.7 L726.9,134.1 L730.0,133.6 L733.1,133.1 L736.2,132.8 L739.3,132.5 L742.5,132.4 L745.7,132.3 L748.8,132.3 L752.0,132.4 L755.1,132.5 L758.3,132.8 L761.4,133.1 L764.5,133.6 L767.5,134.1 L770.5,134.6 L773.5,135.3 L776.4,136.1 L779.2,136.9 L782.0,137.8 L784.7,138.8 L787.3,139.8 L789.8,140.9 L792.3,142.1 L794.6,143.4 L796.8,144.7 L799.0,146.0 L801.0,147.5 L802.9,148.9 L804.6,150.5 L806.3,152.1 L807.8,153.7 L809.2,155.3 L810.5,157.0 L811.6,158.7 L812.6,160.5 L813.4,162.3 L814.1,164.1 L814.7,165.9 L815.1,167.7 L815.4,169.6 L815.5,171.4 L815.5,173.3 L815.3,175.1 L814.6,176.0 L809.6,177.5 L806.6,177.8 L804.5,178.5 L803.2,179.5 L802.7,180.4 L802.4,181.3 L802.7,182.5 L804.0,183.7 L806.3,184.9 L809.5,187.5 L809.3,188.5 L807.9,190.2 L806.3,191.9 L804.6,193.5 L802.9,195.0 L800.9,196.5 L798.9,197.9 L796.7,199.3 L794.5,200.6 L792.1,201.9 L789.6,203.1 L787.1,204.2 L784.4,205.3 L781.7,206.2 L778.9,207.2 L776.0,208.0 L773.1,208.7 L770.1,209.4 L767.0,210.0 L763.9,210.5 L760.8,210.9 L757.7,211.2 L754.5,211.4 L751.3,211.6 L748.1,211.7 L747.3,211.7 L745.9,211.1 L745.2,211.1 L744.1,210.3 L743.3,209.3 L741.6,205.5 L741.1,204.9 L740.2,204.6 Z" fill="#fff" stroke="none" stroke-width="0" />
<path d="M726.2,200.6 L725.1,200.6 L724.2,201.0 L719.5,203.8 L718.0,204.5 L716.4,204.9 L715.7,204.6 L714.0,204.7 L713.3,204.5 L710.6,203.6 L707.9,202.5 L705.4,201.4 L702.9,200.2 L700.5,199.0 L698.2,197.7 L696.1,196.3 L694.0,194.9 L692.1,193.4 L690.2,191.8 L688.5,190.2 L687.0,188.6 L685.5,186.9 L684.3,185.2 L683.1,183.5 L682.1,181.7 L681.2,179.9 L680.5,178.1 L679.9,176.3 L679.5,174.4 L679.2,172.5 L679.1,170.7 L679.1,168.8 L679.3,167.0 L680.0,166.0 L685.0,164.6 L688.0,164.2 L690.1,163.6 L691.4,162.6 L691.9,161.7 L692.2,160.8 L691.9,159.5 L690.6,158.4 L688.3,157.2 L685.1,154.5 L685.3,153.5 L686.7,151.8 L688.2,150.2 L689.9,148.6 L691.7,147.1 L693.6,145.6 L695.6,144.2 L697.7,142.8 L699.9,141.5 L702.2,140.3 L704.7,139.1 L707.2,138.0 L709.8,136.9 L712.5,135.9 L715.3,135.0 L718.1,134.2 L721.0,133.4 L723.9,132.8 L726.9,132.2 L730.0,131.7 L733.1,131.2 L736.2,130.9 L739.3,130.6 L742.5,130.5 L745.7,130.4 L748.8,130.4 L752.0,130.5 L755.1,130.6 L758.3,130.9 L761.4,131.2 L764.5,131.6 L767.5,132.1 L770.5,132.7 L773.5,133.4 L776.4,134.2 L779.2,135.0 L782.0,135.9 L784.7,136.9 L787.3,137.9 L789.8,139.0 L792.3,140.2 L794.6,141.5 L796.8,142.8 L799.0,144.1 L801.0,145.6 L802.9,147.0 L804.6,148.6 L806.3,150.2 L807.8,151.8 L809.2,153.4 L810.5,155.1 L811.6,156.8 L812.6,158.6 L813.4,160.4 L814.1,162.2 L814.7,164.0 L815.1,165.8 L815.4,167.7 L815.5,169.5 L815.5,171.4 L815.3,173.2 L814.6,174.2 L809.6,175.6 L806.6,175.9 L804.5,176.6 L803.2,177.6 L802.7,178.5 L802.4,179.4 L802.7,180.7 L804.0,181.8 L806.3,183.0 L809.5,185.7 L809.3,186.7 L807.9,188.3 L806.3,190.0 L804.6,191.6 L802.9,193.1 L800.9,194.6 L798.9,196.1 L796.7,197.4 L794.5,198.8 L792.1,200.0 L789.6,201.2 L787.1,202.3 L784.4,203.4 L781.7,204.4 L778.9,205.3 L776.0,206.1 L773.1,206.9 L770.1,207.5 L767.0,208.1 L763.9,208.6 L760.8,209.0 L757.7,209.3 L754.5,209.6 L751.3,209.7 L748.1,209.8 L747.3,209.8 L745.9,209.2 L745.2,209.2 L744.1,208.5 L743.3,207.4 L741.6,203.6 L741.1,203.0 L740.2,202.7 Z" fill="#fff" stroke="none" stroke-width="0" />
<path d="M726.2,198.7 L725.1,198.7 L724.2,199.1 L719.5,201.9 L718.0,202.6 L716.4,203.0 L715.7,202.8 L714.0,202.9 L713.3,202.7 L710.6,201.7 L707.9,200.6 L705.4,199.5 L702.9,198.3 L700.5,197.1 L698.2,195.8 L696.1,194.4 L694.0,193.0 L692.1,191.5 L690.2,190.0 L688.5,188.4 L687.0,186.7 L685.5,185.1 L684.3,183.3 L683.1,181.6 L682.1,179.8 L681.2,178.0 L680.5,176.2 L679.9,174.4 L679.5,172.5 L679.2,170.7 L679.1,168.8 L679.1,166.9 L679.3,165.1 L680.0,164.1 L685.0,162.7 L688.0,162.3 L690.1,161.7 L691.4,160.7 L691.9,159.8 L692.2,158.9 L691.9,157.6 L690.6,156.5 L688.3,155.3 L685.1,152.6 L685.3,151.6 L686.7,149.9 L688.2,148.3 L689.9,146.7 L691.7,145.2 L693.6,143.7 L695.6,142.3 L697.7,140.9 L699.9,139.6 L702.2,138.4 L704.7,137.2 L707.2,136.0 L709.8,135.0 L712.5,134.0 L715.3,133.1 L718.1,132.3 L721.0,131.5 L723.9,130.9 L726.9,130.3 L730.0,129.8 L733.1,129.3 L736.2,129.0 L739.3,128.7 L742.5,128.5 L745.7,128.5 L748.8,128.5 L752.0,128.5 L755.1,128.7 L758.3,129.0 L761.4,129.3 L764.5,129.7 L767.5,130.2 L770.5,130.8 L773.5,131.5 L776.4,132.2 L779.2,133.1 L782.0,134.0 L784.7,135.0 L787.3,136.0 L789.8,137.1 L792.3,138.3 L794.6,139.6 L796.8,140.9 L799.0,142.2 L801.0,143.7 L802.9,145.1 L804.6,146.7 L806.3,148.3 L807.8,149.9 L809.2,151.5 L810.5,153.2 L811.6,155.0 L812.6,156.7 L813.4,158.5 L814.1,160.3 L814.7,162.1 L815.1,163.9 L815.4,165.8 L815.5,167.6 L815.5,169.5 L815.3,171.3 L814.6,172.3 L809.6,173.7 L806.6,174.1 L804.5,174.7 L803.2,175.7 L802.7,176.6 L802.4,177.5 L802.7,178.8 L804.0,179.9 L806.3,181.1 L809.5,183.8 L809.3,184.8 L807.9,186.5 L806.3,188.1 L804.6,189.7 L802.9,191.2 L800.9,192.7 L798.9,194.2 L796.7,195.6 L794.5,196.9 L792.1,198.2 L789.6,199.3 L787.1,200.5 L784.4,201.5 L781.7,202.5 L778.9,203.4 L776.0,204.2 L773.1,205.0 L770.1,205.6 L767.0,206.2 L763.9,206.7 L760.8,207.1 L757.7,207.5 L754.5,207.7 L751.3,207.9 L748.1,207.9 L747.3,207.9 L745.9,207.4 L745.2,207.4 L744.1,206.6 L743.3,205.5 L741.6,201.8 L741.1,201.2 L740.2,200.8 Z" fill="#fff" stroke="none" stroke-width="0" />
<path d="M726.2,196.8 L725.1,196.8 L724.2,197.2 L719.5,200.0 L718.0,200.8 L716.4,201.1 L715.7,200.9 L714.0,201.0 L713.3,200.8 L710.6,199.8 L707.9,198.8 L705.4,197.7 L702.9,196.5 L700.5,195.2 L698.2,193.9 L696.1,192.5 L694.0,191.1 L692.1,189.6 L690.2,188.1 L688.5,186.5 L687.0,184.9 L685.5,183.2 L684.3,181.5 L683.1,179.7 L682.1,177.9 L681.2,176.1 L680.5,174.3 L679.9,172.5 L679.5,170.6 L679.2,168.8 L679.1,166.9 L679.1,165.0 L679.3,163.2 L680.0,162.2 L685.0,160.8 L688.0,160.4 L690.1,159.8 L691.4,158.8 L691.9,157.9 L692.2,157.0 L691.9,155.7 L690.6,154.6 L688.3,153.4 L685.1,150.7 L685.3,149.7 L686.7,148.0 L688.2,146.4 L689.9,144.8 L691.7,143.3 L693.6,141.8 L695.6,140.4 L697.7,139.0 L699.9,137.7 L702.2,136.4 L704.7,135.3 L707.2,134.1 L709.8,133.1 L712.5,132.1 L715.3,131.2 L718.1,130.4 L721.0,129.6 L723.9,128.9 L726.9,128.4 L730.0,127.8 L733.1,127.4 L736.2,127.1 L739.3,126.8 L742.5,126.6 L745.7,126.6 L748.8,126.5 L752.0,126.6 L755.1,126.8 L758.3,127.1 L761.4,127.4 L764.5,127.8 L767.5,128.3 L770.5,128.9 L773.5,129.6 L776.4,130.3 L779.2,131.2 L782.0,132.1 L784.7,133.0 L787.3,134.1 L789.8,135.2 L792.3,136.4 L794.6,137.7 L796.8,139.0 L799.0,140.3 L801.0,141.8 L802.9,143.2 L804.6,144.8 L806.3,146.4 L807.8,148.0 L809.2,149.6 L810.5,151.3 L811.6,153.1 L812.6,154.8 L813.4,156.6 L814.1,158.4 L814.7,160.2 L815.1,162.0 L815.4,163.9 L815.5,165.7 L815.5,167.6 L815.3,169.4 L814.6,170.4 L809.6,171.8 L806.6,172.2 L804.5,172.8 L803.2,173.8 L802.7,174.7 L802.4,175.6 L802.7,176.9 L804.0,178.0 L806.3,179.2 L809.5,181.9 L809.3,182.9 L807.9,184.6 L806.3,186.2 L804.6,187.8 L802.9,189.4 L800.9,190.9 L798.9,192.3 L796.7,193.7 L794.5,195.0 L792.1,196.3 L789.6,197.5 L787.1,198.6 L784.4,199.7 L781.7,200.6 L778.9,201.5 L776.0,202.4 L773.1,203.1 L770.1,203.8 L767.0,204.4 L763.9,204.9 L760.8,205.3 L757.7,205.6 L754.5,205.8 L751.3,206.0 L748.1,206.1 L747.3,206.1 L745.9,205.5 L745.2,205.5 L744.1,204.7 L743.3,203.6 L741.6,199.9 L741.1,199.3 L740.2,199.0 Z" fill="#fff" stroke="none" stroke-width="0" />
<path d="M809.5,200.7 L809.3,201.7 L807.9,203.4 L806.3,205.0 L804.6,206.6 L802.9,208.1 L800.9,209.6 L798.9,211.1 L796.7,212.4 L794.5,213.8 L792.1,215.0 L789.6,216.2 L787.1,217.3 L784.4,218.4 L781.7,219.4 L778.9,220.3 L776.0,221.1 L773.1,221.8 L770.1,222.5 L767.0,223.1 L763.9,223.6 L760.8,224.0 L757.7,224.3 L754.5,224.5 L751.3,224.7 L748.1,224.8 L747.3,224.8 L745.9,224.2 L745.2,224.2 L744.1,223.4 L743.3,222.4 L741.6,218.6 L741.1,218.0 L740.2,217.7 L726.2,215.6 L725.1,215.6 L724.2,216.0 L719.5,218.8 L718.0,219.5 L716.4,219.8 L715.7,219.6 L714.0,219.7 L713.3,219.5 L710.6,218.5 L707.9,217.5 L705.4,216.4 L702.9,215.2 L700.5,214.0 L698.2,212.7 L696.1,211.3 L694.0,209.9 L692.1,208.4 L690.2,206.9 L688.5,205.3 L687.0,203.7 L685.5,202.0 L684.3,200.3 L683.1,198.6 L682.1,196.8 L681.2,195.0 L680.5,193.2 L679.9,191.4 L679.5,189.5 L679.2,187.7" fill="none" stroke="#707070" stroke-width="0.7" />
<line x1="679.1" y1="165.3" x2="679.1" y2="186.2" stroke="#707070" stroke-width="0.7" />
<line x1="815.5" y1="165.3" x2="815.5" y2="186.2" stroke="#707070" stroke-width="0.7" />
<line x1="724.66" y1="194.41" x2="724.66" y2="215.58" stroke="#707070" stroke-width="0.7" />
<line x1="741.5" y1="197.01" x2="741.5" y2="218.13" stroke="#707070" stroke-width="0.7" />
<line x1="714.02" y1="201.01" x2="714.02" y2="219.73" stroke="#707070" stroke-width="0.7" />
<line x1="747.31" y1="206.06" x2="747.31" y2="224.76" stroke="#707070" stroke-width="0.7" />
<line x1="719.55" y1="200.04" x2="719.55" y2="218.76" stroke="#707070" stroke-width="0.7" />
<line x1="743.29" y1="203.64" x2="743.29" y2="222.35" stroke="#707070" stroke-width="0.7" />
<line x1="809.66" y1="182.4" x2="809.66" y2="201.21" stroke="#707070" stroke-width="0.7" />
<line x1="815.21" y1="169.99" x2="815.21" y2="188.87" stroke="#707070" stroke-width="0.7" />
<line x1="684.94" y1="150.2" x2="684.94" y2="169.19" stroke="#707070" stroke-width="0.7" />
<path d="M726.2,196.8 L725.1,196.8 L724.2,197.2 L719.5,200.0 L718.0,200.8 L716.4,201.1 L715.7,200.9 L714.0,201.0 L713.3,200.8 L710.6,199.8 L707.9,198.8 L705.4,197.7 L702.9,196.5 L700.5,195.2 L698.2,193.9 L696.1,192.5 L694.0,191.1 L692.1,189.6 L690.2,188.1 L688.5,186.5 L687.0,184.9 L685.5,183.2 L684.3,181.5 L683.1,179.7 L682.1,177.9 L681.2,176.1 L680.5,174.3 L679.9,172.5 L679.5,170.6 L679.2,168.8 L679.1,166.9 L679.1,165.0 L679.3,163.2 L680.0,162.2 L685.0,160.8 L688.0,160.4 L690.1,159.8 L691.4,158.8 L691.9,157.9 L692.2,157.0 L691.9,155.7 L690.6,154.6 L688.3,153.4 L685.1,150.7 L685.3,149.7 L686.7,148.0 L688.2,146.4 L689.9,144.8 L691.7,143.3 L693.6,141.8 L695.6,140.4 L697.7,139.0 L699.9,137.7 L702.2,136.4 L704.7,135.3 L707.2,134.1 L709.8,133.1 L712.5,132.1 L715.3,131.2 L718.1,130.4 L721.0,129.6 L723.9,128.9 L726.9,128.4 L730.0,127.8 L733.1,127.4 L736.2,127.1 L739.3,126.8 L742.5,126.6 L745.7,126.6 L748.8,126.5 L752.0,126.6 L755.1,126.8 L758.3,127.1 L761.4,127.4 L764.5,127.8 L767.5,128.3 L770.5,128.9 L773.5,129.6 L776.4,130.3 L779.2,131.2 L782.0,132.1 L784.7,133.0 L787.3,134.1 L789.8,135.2 L792.3,136.4 L794.6,137.7 L796.8,139.0 L799.0,140.3 L801.0,141.8 L802.9,143.2 L804.6,144.8 L806.3,146.4 L807.8,148.0 L809.2,149.6 L810.5,151.3 L811.6,153.1 L812.6,154.8 L813.4,156.6 L814.1,158.4 L814.7,160.2 L815.1,162.0 L815.4,163.9 L815.5,165.7 L815.5,167.6 L815.3,169.4 L814.6,170.4 L809.6,171.8 L806.6,172.2 L804.5,172.8 L803.2,173.8 L802.7,174.7 L802.4,175.6 L802.7,176.9 L804.0,178.0 L806.3,179.2 L809.5,181.9 L809.3,182.9 L807.9,184.6 L806.3,186.2 L804.6,187.8 L802.9,189.4 L800.9,190.9 L798.9,192.3 L796.7,193.7 L794.5,195.0 L792.1,196.3 L789.6,197.5 L787.1,198.6 L784.4,199.7 L781.7,200.6 L778.9,201.5 L776.0,202.4 L773.1,203.1 L770.1,203.8 L767.0,204.4 L763.9,204.9 L760.8,205.3 L757.7,205.6 L754.5,205.8 L751.3,206.0 L748.1,206.1 L747.3,206.1 L745.9,205.5 L745.2,205.5 L744.1,204.7 L743.3,203.6 L741.6,199.9 L741.1,199.3 L740.2,199.0 Z" fill="#fff" stroke="none" stroke-width="0" />
<path d="M714.0,201.0 L712.3,200.4 L710.6,199.8 L709.0,199.2 L707.4,198.5 L705.8,197.9 L704.3,197.1 L702.8,196.4 L701.3,195.6 L699.9,194.9 L698.5,194.1 L697.1,193.2 L695.8,192.4 L694.5,191.5 L693.3,190.6 L692.1,189.7 L691.0,188.7 L689.9,187.8 L688.9,186.8 L687.9,185.8 L686.9,184.8 L686.0,183.8 L685.2,182.7 L684.4,181.7 L683.7,180.6 L683.0,179.6 L682.4,178.5 L681.8,177.4 L681.3,176.3 L680.8,175.2 L680.4,174.0 L680.0,172.9 L679.7,171.8 L679.5,170.6 L679.3,169.5 L679.2,168.3 L679.1,167.2 L679.1,166.1 L679.1,164.9 L679.2,163.8 L679.4,162.6" fill="none" stroke="#707070" stroke-width="0.7" />
<path d="M684.9,150.2 L687.0,147.7 L689.4,145.3 L692.1,142.9 L695.1,140.7 L698.3,138.6 L701.8,136.7 L705.4,134.9 L709.3,133.3 L713.4,131.8 L717.7,130.5 L722.1,129.4 L726.6,128.4 L731.2,127.7 L735.9,127.1 L740.7,126.7 L745.5,126.6 L750.3,126.6 L755.1,126.8 L759.8,127.2 L764.5,127.8 L769.1,128.6 L773.6,129.6 L778.0,130.8 L782.2,132.1 L786.2,133.6 L790.0,135.3 L793.7,137.2 L797.1,139.1 L800.2,141.2 L803.1,143.5 L805.8,145.8 L808.1,148.3 L810.1,150.8 L811.8,153.4 L813.2,156.1 L814.3,158.8 L815.0,161.6 L815.4,164.4 L815.5,167.2 L815.2,170.0" fill="none" stroke="#707070" stroke-width="0.7" />
<path d="M809.7,182.4 L808.8,183.4 L808.0,184.5 L807.0,185.5 L806.1,186.5 L805.0,187.5 L804.0,188.4 L802.9,189.4 L801.7,190.3 L800.5,191.2 L799.2,192.1 L797.9,192.9 L796.6,193.8 L795.2,194.6 L793.8,195.4 L792.3,196.2 L790.8,196.9 L789.3,197.6 L787.7,198.3 L786.1,199.0 L784.5,199.6 L782.8,200.2 L781.1,200.8 L779.4,201.4 L777.7,201.9 L775.9,202.4 L774.1,202.9 L772.3,203.3 L770.4,203.7 L768.6,204.1 L766.7,204.4 L764.8,204.7 L762.9,205.0 L761.0,205.3 L759.1,205.5 L757.1,205.6 L755.2,205.8 L753.2,205.9 L751.2,206.0 L749.3,206.0 L747.3,206.1" fill="none" stroke="#707070" stroke-width="0.7" />
<path d="M726.2,194.4 L725.1,194.4 L724.2,194.8 L721.3,196.3 L719.7,197.0 L718.1,197.4 L719.2,196.7 L717.5,196.8 L716.8,196.6 L714.1,195.7 L711.5,194.7 L709.0,193.6 L706.6,192.5 L704.2,191.3 L702.0,190.0 L699.9,188.7 L697.9,187.3 L696.0,185.8 L694.2,184.3 L692.5,182.8 L691.0,181.2 L689.6,179.5 L688.4,177.9 L687.2,176.1 L686.3,174.4 L685.4,172.6 L684.8,170.8 L684.2,169.0 L683.8,167.2 L683.6,165.4 L683.5,163.6 L683.6,161.7 L683.8,159.9 L684.5,159.0 L685.0,157.8 L688.0,157.4 L690.1,156.8 L691.4,155.8 L691.9,154.8 L692.2,153.9 L691.9,152.7 L690.6,151.5 L688.3,150.3 L688.8,149.1 L689.0,148.1 L690.2,146.5 L691.6,144.9 L693.2,143.4 L694.8,141.9 L696.6,140.5 L698.4,139.1 L700.4,137.8 L702.5,136.5 L704.7,135.3 L707.0,134.1 L709.3,133.0 L711.8,132.0 L714.3,131.1 L716.9,130.2 L719.6,129.4 L722.3,128.7 L725.1,128.0 L727.9,127.4 L730.8,126.9 L733.7,126.5 L736.6,126.2 L739.6,125.9 L742.6,125.7 L745.6,125.6 L748.6,125.6 L751.6,125.7 L754.6,125.9 L757.5,126.1 L760.5,126.4 L763.4,126.9 L766.3,127.3 L769.1,127.9 L771.9,128.5 L774.6,129.3 L777.3,130.1 L779.9,130.9 L782.5,131.9 L784.9,132.9 L787.3,134.0 L789.6,135.1 L791.8,136.3 L793.9,137.6 L795.9,138.9 L797.8,140.3 L799.5,141.7 L801.2,143.2 L802.7,144.7 L804.2,146.3 L805.5,147.9 L806.6,149.5 L807.7,151.2 L808.6,152.9 L809.3,154.6 L810.0,156.3 L810.5,158.1 L810.8,159.8 L811.0,161.6 L811.1,163.4 L811.0,165.1 L810.8,166.9 L810.1,167.8 L809.6,169.0 L806.6,169.4 L804.5,170.0 L803.2,171.0 L802.7,172.0 L802.4,172.9 L802.7,174.1 L804.0,175.3 L806.3,176.5 L805.8,177.7 L805.6,178.7 L804.3,180.3 L802.9,182.0 L801.3,183.5 L799.6,185.1 L797.7,186.5 L795.8,188.0 L793.7,189.3 L791.5,190.6 L789.2,191.9 L786.8,193.0 L784.4,194.1 L781.8,195.2 L779.1,196.1 L776.4,197.0 L773.6,197.8 L770.8,198.5 L767.9,199.2 L764.9,199.7 L761.9,200.2 L758.9,200.5 L755.8,200.8 L752.7,201.0 L749.6,201.1 L746.5,201.2 L745.8,201.2 L744.4,200.6 L744.8,201.5 L743.7,200.7 L742.9,199.6 L741.6,197.5 L741.1,196.9 L740.2,196.6 Z" fill="#fff" stroke="#707070" stroke-width="0.7" />
<path d="M717.52,196.8 Q714.89,198.06 714.02,201.01" fill="none" stroke="#707070" stroke-width="0.7" />
<path d="M745.77,201.16 Q746.93,202.63 747.31,206.06" fill="none" stroke="#707070" stroke-width="0.7" />
<path d="M683.86,159.37 Q680.51,160.34 679.39,162.61" fill="none" stroke="#707070" stroke-width="0.7" />
<path d="M688.6,148.6 Q685.86,149.08 684.94,150.2" fill="none" stroke="#707070" stroke-width="0.7" />
<path d="M806,178.2 Q808.74,179.46 809.66,182.4" fill="none" stroke="#707070" stroke-width="0.7" />
<path d="M810.74,167.43 Q814.09,168.2 815.21,169.99" fill="none" stroke="#707070" stroke-width="0.7" />
<path d="M694.8,159.3 L694.8,163.4 A52.5,29.3 0 0 0 799.8,163.4 L799.8,159.3 Z" fill="#fff" stroke="none" stroke-width="0" />
<path d="M694.8,159.3 L694.8,163.4 A52.5,29.3 0 0 0 799.8,163.4 L799.8,159.3" fill="none" stroke="#707070" stroke-width="0.7" />
<ellipse cx="747.3" cy="159.3" rx="52.5" ry="29.3" fill="#fff" stroke="#707070" stroke-width="0.7" />
<ellipse cx="747.3" cy="157.3" rx="49.2" ry="28.5" fill="#fff" stroke="#707070" stroke-width="0.7" />
<path d="M701,93.4 L701,155.1 A46.3,26.4 0 0 0 793.6,155.1 L793.6,93.4 Z" fill="#fff" stroke="none" stroke-width="0" />
<path d="M701,93.4 L701,155.1 A46.3,26.4 0 0 0 793.6,155.1 L793.6,93.4" fill="none" stroke="#707070" stroke-width="0.7" />
<ellipse cx="747.3" cy="93.4" rx="46.3" ry="26.4" fill="#fff" stroke="#707070" stroke-width="0.7" />
<ellipse cx="747.7" cy="89.3" rx="41.9" ry="23.9" fill="#fff" stroke="#707070" stroke-width="0.7" />
<ellipse cx="747.3" cy="89.2" rx="30.9" ry="17.9" fill="#fff" stroke="#707070" stroke-width="0.7" />
<path d="M720.1,96.34 A28.6,16.3 0 1 1 774.5,96.34" fill="none" stroke="#707070" stroke-width="0.7" />
<path d="M720,98.3 A27.2,15.6 0 0 1 774,98.3" fill="none" stroke="#707070" stroke-width="0.7" />
<path d="M721.72,98.72 A25.6,14.6 0 0 1 772.28,98.72" fill="none" stroke="#707070" stroke-width="0.7" />
</svg>
</body></html>
